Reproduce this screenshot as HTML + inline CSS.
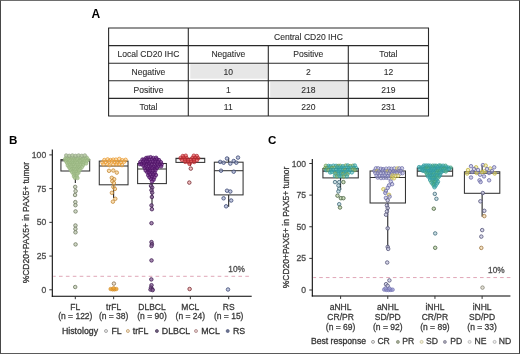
<!DOCTYPE html>
<html><head><meta charset="utf-8"><style>
html,body{margin:0;padding:0;background:#fff;}
body{width:520px;height:354px;overflow:hidden;position:relative;}
svg{position:absolute;left:0;top:0;font-family:"Liberation Sans", sans-serif;will-change:transform;}
.frame{position:absolute;left:0;top:0;width:518px;height:352px;border:1px solid #555;border-left-color:#484848;border-top-color:#6e6e6e;border-right-color:#3a3a3a;border-bottom-color:#5a5a5a;}
</style></head><body>
<svg width="520" height="354" viewBox="0 0 520 354">
<rect width="520" height="354" fill="#fff"/>
<text x="91.50" y="18.10" font-size="12.0" text-anchor="start" fill="#000"  font-weight="bold" >A</text>
<rect x="190.3" y="64.2" width="77.2" height="14.5" fill="#e7e7e7"/>
<rect x="270.2" y="81.8" width="77.2" height="15.1" fill="#e7e7e7"/>
<line x1="108.10" y1="28.00" x2="429.00" y2="28.00" stroke="#2a2a2a" stroke-width="1.1" />
<line x1="108.10" y1="45.60" x2="429.00" y2="45.60" stroke="#2a2a2a" stroke-width="1.1" />
<line x1="108.10" y1="63.20" x2="429.00" y2="63.20" stroke="#2a2a2a" stroke-width="1.1" />
<line x1="108.10" y1="80.80" x2="429.00" y2="80.80" stroke="#2a2a2a" stroke-width="1.1" />
<line x1="108.10" y1="98.40" x2="429.00" y2="98.40" stroke="#2a2a2a" stroke-width="1.1" />
<line x1="108.10" y1="116.00" x2="429.00" y2="116.00" stroke="#2a2a2a" stroke-width="1.1" />
<line x1="108.60" y1="28.00" x2="108.60" y2="116.00" stroke="#2a2a2a" stroke-width="1.1" />
<line x1="188.30" y1="28.00" x2="188.30" y2="116.00" stroke="#2a2a2a" stroke-width="1.1" />
<line x1="268.30" y1="45.60" x2="268.30" y2="116.00" stroke="#2a2a2a" stroke-width="1.1" />
<line x1="348.30" y1="45.60" x2="348.30" y2="116.00" stroke="#2a2a2a" stroke-width="1.1" />
<line x1="428.50" y1="28.00" x2="428.50" y2="116.00" stroke="#2a2a2a" stroke-width="1.1" />
<text x="308.40" y="39.70" font-size="8.55" text-anchor="middle" fill="#2e2e2e" stroke="#2e2e2e" stroke-width="0.1" font-weight="normal" >Central CD20 IHC</text>
<text x="148.45" y="57.30" font-size="8.55" text-anchor="middle" fill="#2e2e2e" stroke="#2e2e2e" stroke-width="0.1" font-weight="normal" >Local CD20 IHC</text>
<text x="228.30" y="57.30" font-size="8.55" text-anchor="middle" fill="#2e2e2e" stroke="#2e2e2e" stroke-width="0.1" font-weight="normal" >Negative</text>
<text x="308.30" y="57.30" font-size="8.55" text-anchor="middle" fill="#2e2e2e" stroke="#2e2e2e" stroke-width="0.1" font-weight="normal" >Positive</text>
<text x="388.40" y="57.30" font-size="8.55" text-anchor="middle" fill="#2e2e2e" stroke="#2e2e2e" stroke-width="0.1" font-weight="normal" >Total</text>
<text x="148.45" y="74.90" font-size="8.55" text-anchor="middle" fill="#2e2e2e" stroke="#2e2e2e" stroke-width="0.1" font-weight="normal" >Negative</text>
<text x="228.30" y="74.90" font-size="8.55" text-anchor="middle" fill="#2e2e2e" stroke="#2e2e2e" stroke-width="0.1" font-weight="normal" >10</text>
<text x="308.30" y="74.90" font-size="8.55" text-anchor="middle" fill="#2e2e2e" stroke="#2e2e2e" stroke-width="0.1" font-weight="normal" >2</text>
<text x="388.40" y="74.90" font-size="8.55" text-anchor="middle" fill="#2e2e2e" stroke="#2e2e2e" stroke-width="0.1" font-weight="normal" >12</text>
<text x="148.45" y="92.50" font-size="8.55" text-anchor="middle" fill="#2e2e2e" stroke="#2e2e2e" stroke-width="0.1" font-weight="normal" >Positive</text>
<text x="228.30" y="92.50" font-size="8.55" text-anchor="middle" fill="#2e2e2e" stroke="#2e2e2e" stroke-width="0.1" font-weight="normal" >1</text>
<text x="308.30" y="92.50" font-size="8.55" text-anchor="middle" fill="#2e2e2e" stroke="#2e2e2e" stroke-width="0.1" font-weight="normal" >218</text>
<text x="388.40" y="92.50" font-size="8.55" text-anchor="middle" fill="#2e2e2e" stroke="#2e2e2e" stroke-width="0.1" font-weight="normal" >219</text>
<text x="148.45" y="110.10" font-size="8.55" text-anchor="middle" fill="#2e2e2e" stroke="#2e2e2e" stroke-width="0.1" font-weight="normal" >Total</text>
<text x="228.30" y="110.10" font-size="8.55" text-anchor="middle" fill="#2e2e2e" stroke="#2e2e2e" stroke-width="0.1" font-weight="normal" >11</text>
<text x="308.30" y="110.10" font-size="8.55" text-anchor="middle" fill="#2e2e2e" stroke="#2e2e2e" stroke-width="0.1" font-weight="normal" >220</text>
<text x="388.40" y="110.10" font-size="8.55" text-anchor="middle" fill="#2e2e2e" stroke="#2e2e2e" stroke-width="0.1" font-weight="normal" >231</text>
<text x="9.00" y="144.00" font-size="11.6" text-anchor="start" fill="#000"  font-weight="bold" >B</text>
<text x="268.00" y="144.00" font-size="11.6" text-anchor="start" fill="#000"  font-weight="bold" >C</text>
<line x1="53.3" y1="276.31" x2="251.70" y2="276.31" stroke="#dea2b4" stroke-width="0.95" stroke-dasharray="3.6 3.3" stroke-dashoffset="1.2"/>
<line x1="313.3" y1="277.55" x2="510.40" y2="277.55" stroke="#dea2b4" stroke-width="0.95" stroke-dasharray="3.6 3.1" stroke-dashoffset="0.8"/>
<text x="244.90" y="272.30" font-size="8.3" text-anchor="end" fill="#4d4d4d" stroke="#4d4d4d" stroke-width="0.28" font-weight="normal" >10%</text>
<text x="504.70" y="273.20" font-size="8.3" text-anchor="end" fill="#4d4d4d" stroke="#4d4d4d" stroke-width="0.28" font-weight="normal" >10%</text>
<line x1="75.30" y1="159.60" x2="75.30" y2="159.60" stroke="#111" stroke-width="1" />
<line x1="75.30" y1="171.00" x2="75.30" y2="183.00" stroke="#111" stroke-width="1" />
<rect x="60.92" y="159.60" width="28.76" height="11.40" fill="none" stroke="#333" stroke-width="1.05"/>
<line x1="60.92" y1="160.80" x2="89.68" y2="160.80" stroke="#333" stroke-width="1.05" />
<line x1="113.65" y1="161.10" x2="113.65" y2="161.10" stroke="#111" stroke-width="1" />
<line x1="113.65" y1="184.80" x2="113.65" y2="198.00" stroke="#111" stroke-width="1" />
<rect x="99.27" y="161.10" width="28.76" height="23.70" fill="none" stroke="#333" stroke-width="1.05"/>
<line x1="99.27" y1="166.00" x2="128.03" y2="166.00" stroke="#333" stroke-width="1.05" />
<line x1="152.00" y1="163.50" x2="152.00" y2="163.50" stroke="#111" stroke-width="1" />
<line x1="152.00" y1="183.60" x2="152.00" y2="208.00" stroke="#111" stroke-width="1" />
<rect x="137.62" y="163.50" width="28.76" height="20.10" fill="none" stroke="#333" stroke-width="1.05"/>
<line x1="137.62" y1="169.00" x2="166.38" y2="169.00" stroke="#333" stroke-width="1.05" />
<line x1="190.35" y1="158.30" x2="190.35" y2="158.30" stroke="#111" stroke-width="1" />
<line x1="190.35" y1="162.40" x2="190.35" y2="166.00" stroke="#111" stroke-width="1" />
<rect x="175.97" y="158.30" width="28.76" height="4.10" fill="none" stroke="#333" stroke-width="1.05"/>
<line x1="175.97" y1="158.60" x2="204.73" y2="158.60" stroke="#333" stroke-width="1.05" />
<line x1="228.70" y1="157.60" x2="228.70" y2="162.20" stroke="#111" stroke-width="1" />
<line x1="228.70" y1="194.90" x2="228.70" y2="206.80" stroke="#111" stroke-width="1" />
<rect x="214.32" y="162.20" width="28.76" height="32.70" fill="none" stroke="#333" stroke-width="1.05"/>
<line x1="214.32" y1="170.70" x2="243.08" y2="170.70" stroke="#333" stroke-width="1.05" />
<circle cx="65.92" cy="157.96" r="1.75" fill="#aac693" fill-opacity="0.85" stroke="#93b07a" stroke-width="0.55"/>
<circle cx="68.35" cy="157.89" r="1.75" fill="#aac693" fill-opacity="0.85" stroke="#93b07a" stroke-width="0.55"/>
<circle cx="70.16" cy="157.98" r="1.75" fill="#aac693" fill-opacity="0.85" stroke="#93b07a" stroke-width="0.55"/>
<circle cx="72.03" cy="157.93" r="1.75" fill="#aac693" fill-opacity="0.85" stroke="#93b07a" stroke-width="0.55"/>
<circle cx="74.44" cy="158.12" r="1.75" fill="#aac693" fill-opacity="0.85" stroke="#93b07a" stroke-width="0.55"/>
<circle cx="76.17" cy="157.78" r="1.75" fill="#aac693" fill-opacity="0.85" stroke="#93b07a" stroke-width="0.55"/>
<circle cx="78.26" cy="158.14" r="1.75" fill="#aac693" fill-opacity="0.85" stroke="#93b07a" stroke-width="0.55"/>
<circle cx="80.79" cy="157.60" r="1.75" fill="#aac693" fill-opacity="0.85" stroke="#93b07a" stroke-width="0.55"/>
<circle cx="83.09" cy="158.24" r="1.75" fill="#aac693" fill-opacity="0.85" stroke="#93b07a" stroke-width="0.55"/>
<circle cx="84.96" cy="158.00" r="1.75" fill="#aac693" fill-opacity="0.85" stroke="#93b07a" stroke-width="0.55"/>
<circle cx="86.71" cy="157.58" r="1.75" fill="#aac693" fill-opacity="0.85" stroke="#93b07a" stroke-width="0.55"/>
<circle cx="64.92" cy="159.43" r="1.75" fill="#aac693" fill-opacity="0.85" stroke="#93b07a" stroke-width="0.55"/>
<circle cx="66.78" cy="159.56" r="1.75" fill="#aac693" fill-opacity="0.85" stroke="#93b07a" stroke-width="0.55"/>
<circle cx="68.77" cy="159.71" r="1.75" fill="#aac693" fill-opacity="0.85" stroke="#93b07a" stroke-width="0.55"/>
<circle cx="71.16" cy="159.98" r="1.75" fill="#aac693" fill-opacity="0.85" stroke="#93b07a" stroke-width="0.55"/>
<circle cx="73.31" cy="159.84" r="1.75" fill="#aac693" fill-opacity="0.85" stroke="#93b07a" stroke-width="0.55"/>
<circle cx="75.40" cy="159.85" r="1.75" fill="#aac693" fill-opacity="0.85" stroke="#93b07a" stroke-width="0.55"/>
<circle cx="77.47" cy="159.58" r="1.75" fill="#aac693" fill-opacity="0.85" stroke="#93b07a" stroke-width="0.55"/>
<circle cx="79.95" cy="160.08" r="1.75" fill="#aac693" fill-opacity="0.85" stroke="#93b07a" stroke-width="0.55"/>
<circle cx="81.94" cy="159.88" r="1.75" fill="#aac693" fill-opacity="0.85" stroke="#93b07a" stroke-width="0.55"/>
<circle cx="83.67" cy="159.55" r="1.75" fill="#aac693" fill-opacity="0.85" stroke="#93b07a" stroke-width="0.55"/>
<circle cx="85.75" cy="159.44" r="1.75" fill="#aac693" fill-opacity="0.85" stroke="#93b07a" stroke-width="0.55"/>
<circle cx="88.19" cy="159.67" r="1.75" fill="#aac693" fill-opacity="0.85" stroke="#93b07a" stroke-width="0.55"/>
<circle cx="66.19" cy="161.48" r="1.75" fill="#aac693" fill-opacity="0.85" stroke="#93b07a" stroke-width="0.55"/>
<circle cx="68.37" cy="161.80" r="1.75" fill="#aac693" fill-opacity="0.85" stroke="#93b07a" stroke-width="0.55"/>
<circle cx="69.80" cy="161.35" r="1.75" fill="#aac693" fill-opacity="0.85" stroke="#93b07a" stroke-width="0.55"/>
<circle cx="72.54" cy="161.53" r="1.75" fill="#aac693" fill-opacity="0.85" stroke="#93b07a" stroke-width="0.55"/>
<circle cx="74.69" cy="161.48" r="1.75" fill="#aac693" fill-opacity="0.85" stroke="#93b07a" stroke-width="0.55"/>
<circle cx="76.15" cy="161.65" r="1.75" fill="#aac693" fill-opacity="0.85" stroke="#93b07a" stroke-width="0.55"/>
<circle cx="78.74" cy="161.39" r="1.75" fill="#aac693" fill-opacity="0.85" stroke="#93b07a" stroke-width="0.55"/>
<circle cx="80.36" cy="161.44" r="1.75" fill="#aac693" fill-opacity="0.85" stroke="#93b07a" stroke-width="0.55"/>
<circle cx="83.07" cy="161.74" r="1.75" fill="#aac693" fill-opacity="0.85" stroke="#93b07a" stroke-width="0.55"/>
<circle cx="84.58" cy="161.38" r="1.75" fill="#aac693" fill-opacity="0.85" stroke="#93b07a" stroke-width="0.55"/>
<circle cx="86.67" cy="161.25" r="1.75" fill="#aac693" fill-opacity="0.85" stroke="#93b07a" stroke-width="0.55"/>
<circle cx="67.21" cy="163.15" r="1.75" fill="#aac693" fill-opacity="0.85" stroke="#93b07a" stroke-width="0.55"/>
<circle cx="69.14" cy="163.34" r="1.75" fill="#aac693" fill-opacity="0.85" stroke="#93b07a" stroke-width="0.55"/>
<circle cx="70.98" cy="163.54" r="1.75" fill="#aac693" fill-opacity="0.85" stroke="#93b07a" stroke-width="0.55"/>
<circle cx="73.04" cy="163.48" r="1.75" fill="#aac693" fill-opacity="0.85" stroke="#93b07a" stroke-width="0.55"/>
<circle cx="75.13" cy="163.32" r="1.75" fill="#aac693" fill-opacity="0.85" stroke="#93b07a" stroke-width="0.55"/>
<circle cx="77.30" cy="163.21" r="1.75" fill="#aac693" fill-opacity="0.85" stroke="#93b07a" stroke-width="0.55"/>
<circle cx="79.93" cy="163.59" r="1.75" fill="#aac693" fill-opacity="0.85" stroke="#93b07a" stroke-width="0.55"/>
<circle cx="81.56" cy="163.64" r="1.75" fill="#aac693" fill-opacity="0.85" stroke="#93b07a" stroke-width="0.55"/>
<circle cx="83.60" cy="163.30" r="1.75" fill="#aac693" fill-opacity="0.85" stroke="#93b07a" stroke-width="0.55"/>
<circle cx="86.15" cy="163.47" r="1.75" fill="#aac693" fill-opacity="0.85" stroke="#93b07a" stroke-width="0.55"/>
<circle cx="67.77" cy="165.54" r="1.75" fill="#aac693" fill-opacity="0.85" stroke="#93b07a" stroke-width="0.55"/>
<circle cx="69.95" cy="165.02" r="1.75" fill="#aac693" fill-opacity="0.85" stroke="#93b07a" stroke-width="0.55"/>
<circle cx="72.44" cy="165.07" r="1.75" fill="#aac693" fill-opacity="0.85" stroke="#93b07a" stroke-width="0.55"/>
<circle cx="74.21" cy="164.89" r="1.75" fill="#aac693" fill-opacity="0.85" stroke="#93b07a" stroke-width="0.55"/>
<circle cx="76.16" cy="165.25" r="1.75" fill="#aac693" fill-opacity="0.85" stroke="#93b07a" stroke-width="0.55"/>
<circle cx="78.37" cy="165.26" r="1.75" fill="#aac693" fill-opacity="0.85" stroke="#93b07a" stroke-width="0.55"/>
<circle cx="80.56" cy="165.16" r="1.75" fill="#aac693" fill-opacity="0.85" stroke="#93b07a" stroke-width="0.55"/>
<circle cx="83.07" cy="165.18" r="1.75" fill="#aac693" fill-opacity="0.85" stroke="#93b07a" stroke-width="0.55"/>
<circle cx="69.15" cy="167.27" r="1.75" fill="#aac693" fill-opacity="0.85" stroke="#93b07a" stroke-width="0.55"/>
<circle cx="70.98" cy="166.77" r="1.75" fill="#aac693" fill-opacity="0.85" stroke="#93b07a" stroke-width="0.55"/>
<circle cx="73.59" cy="167.23" r="1.75" fill="#aac693" fill-opacity="0.85" stroke="#93b07a" stroke-width="0.55"/>
<circle cx="75.22" cy="166.79" r="1.75" fill="#aac693" fill-opacity="0.85" stroke="#93b07a" stroke-width="0.55"/>
<circle cx="77.67" cy="167.32" r="1.75" fill="#aac693" fill-opacity="0.85" stroke="#93b07a" stroke-width="0.55"/>
<circle cx="79.39" cy="167.33" r="1.75" fill="#aac693" fill-opacity="0.85" stroke="#93b07a" stroke-width="0.55"/>
<circle cx="81.97" cy="167.08" r="1.75" fill="#aac693" fill-opacity="0.85" stroke="#93b07a" stroke-width="0.55"/>
<circle cx="70.10" cy="168.55" r="1.75" fill="#aac693" fill-opacity="0.85" stroke="#93b07a" stroke-width="0.55"/>
<circle cx="71.93" cy="169.15" r="1.75" fill="#aac693" fill-opacity="0.85" stroke="#93b07a" stroke-width="0.55"/>
<circle cx="74.17" cy="168.97" r="1.75" fill="#aac693" fill-opacity="0.85" stroke="#93b07a" stroke-width="0.55"/>
<circle cx="76.28" cy="169.06" r="1.75" fill="#aac693" fill-opacity="0.85" stroke="#93b07a" stroke-width="0.55"/>
<circle cx="78.62" cy="168.69" r="1.75" fill="#aac693" fill-opacity="0.85" stroke="#93b07a" stroke-width="0.55"/>
<circle cx="80.42" cy="168.98" r="1.75" fill="#aac693" fill-opacity="0.85" stroke="#93b07a" stroke-width="0.55"/>
<circle cx="70.90" cy="170.46" r="1.75" fill="#aac693" fill-opacity="0.85" stroke="#93b07a" stroke-width="0.55"/>
<circle cx="73.34" cy="170.90" r="1.75" fill="#aac693" fill-opacity="0.85" stroke="#93b07a" stroke-width="0.55"/>
<circle cx="75.48" cy="170.49" r="1.75" fill="#aac693" fill-opacity="0.85" stroke="#93b07a" stroke-width="0.55"/>
<circle cx="77.79" cy="170.44" r="1.75" fill="#aac693" fill-opacity="0.85" stroke="#93b07a" stroke-width="0.55"/>
<circle cx="79.26" cy="170.49" r="1.75" fill="#aac693" fill-opacity="0.85" stroke="#93b07a" stroke-width="0.55"/>
<circle cx="72.21" cy="172.16" r="1.75" fill="#aac693" fill-opacity="0.85" stroke="#93b07a" stroke-width="0.55"/>
<circle cx="74.12" cy="172.38" r="1.75" fill="#aac693" fill-opacity="0.85" stroke="#93b07a" stroke-width="0.55"/>
<circle cx="76.50" cy="172.21" r="1.75" fill="#aac693" fill-opacity="0.85" stroke="#93b07a" stroke-width="0.55"/>
<circle cx="78.45" cy="172.74" r="1.75" fill="#aac693" fill-opacity="0.85" stroke="#93b07a" stroke-width="0.55"/>
<circle cx="73.64" cy="174.40" r="1.75" fill="#aac693" fill-opacity="0.85" stroke="#93b07a" stroke-width="0.55"/>
<circle cx="75.53" cy="174.35" r="1.75" fill="#aac693" fill-opacity="0.85" stroke="#93b07a" stroke-width="0.55"/>
<circle cx="77.25" cy="173.96" r="1.75" fill="#aac693" fill-opacity="0.85" stroke="#93b07a" stroke-width="0.55"/>
<circle cx="74.01" cy="176.39" r="1.75" fill="#aac693" fill-opacity="0.85" stroke="#93b07a" stroke-width="0.55"/>
<circle cx="76.59" cy="176.43" r="1.75" fill="#aac693" fill-opacity="0.85" stroke="#93b07a" stroke-width="0.55"/>
<circle cx="75.06" cy="178.02" r="1.75" fill="#aac693" fill-opacity="0.85" stroke="#93b07a" stroke-width="0.55"/>
<circle cx="77.49" cy="178.08" r="1.75" fill="#aac693" fill-opacity="0.85" stroke="#93b07a" stroke-width="0.55"/>
<circle cx="66.20" cy="155.40" r="1.75" fill="#b4c8a0" fill-opacity="0.9" stroke="#8c9c80" stroke-width="0.6"/>
<circle cx="69.30" cy="155.80" r="1.75" fill="#b4c8a0" fill-opacity="0.9" stroke="#8c9c80" stroke-width="0.6"/>
<circle cx="72.40" cy="155.40" r="1.75" fill="#b4c8a0" fill-opacity="0.9" stroke="#8c9c80" stroke-width="0.6"/>
<circle cx="75.50" cy="155.80" r="1.75" fill="#b4c8a0" fill-opacity="0.9" stroke="#8c9c80" stroke-width="0.6"/>
<circle cx="78.60" cy="155.40" r="1.75" fill="#b4c8a0" fill-opacity="0.9" stroke="#8c9c80" stroke-width="0.6"/>
<circle cx="81.70" cy="155.80" r="1.75" fill="#b4c8a0" fill-opacity="0.9" stroke="#8c9c80" stroke-width="0.6"/>
<circle cx="84.80" cy="155.40" r="1.75" fill="#b4c8a0" fill-opacity="0.9" stroke="#8c9c80" stroke-width="0.6"/>
<circle cx="75.19" cy="186.90" r="1.75" fill="#c4ceb6" fill-opacity="0.8" stroke="#768068" stroke-width="0.85"/>
<circle cx="75.60" cy="191.10" r="1.75" fill="#c4ceb6" fill-opacity="0.8" stroke="#768068" stroke-width="0.85"/>
<circle cx="75.05" cy="195.00" r="1.75" fill="#c4ceb6" fill-opacity="0.8" stroke="#768068" stroke-width="0.85"/>
<circle cx="75.33" cy="202.10" r="1.75" fill="#c4ceb6" fill-opacity="0.8" stroke="#768068" stroke-width="0.85"/>
<circle cx="75.44" cy="205.20" r="1.75" fill="#c4ceb6" fill-opacity="0.8" stroke="#768068" stroke-width="0.85"/>
<circle cx="75.54" cy="211.40" r="1.75" fill="#c4ceb6" fill-opacity="0.8" stroke="#768068" stroke-width="0.85"/>
<circle cx="75.44" cy="225.50" r="1.75" fill="#c4ceb6" fill-opacity="0.8" stroke="#768068" stroke-width="0.85"/>
<circle cx="75.42" cy="228.90" r="1.75" fill="#c4ceb6" fill-opacity="0.8" stroke="#768068" stroke-width="0.85"/>
<circle cx="75.48" cy="232.30" r="1.75" fill="#c4ceb6" fill-opacity="0.8" stroke="#768068" stroke-width="0.85"/>
<circle cx="75.55" cy="244.40" r="1.75" fill="#c4ceb6" fill-opacity="0.8" stroke="#768068" stroke-width="0.85"/>
<circle cx="75.21" cy="287.00" r="1.75" fill="#c4ceb6" fill-opacity="0.8" stroke="#768068" stroke-width="0.85"/>
<circle cx="104.36" cy="160.06" r="1.75" fill="#f5c070" fill-opacity="0.5" stroke="#e8962a" stroke-width="0.7"/>
<circle cx="107.62" cy="159.38" r="1.75" fill="#f5c070" fill-opacity="0.5" stroke="#e8962a" stroke-width="0.7"/>
<circle cx="110.51" cy="160.01" r="1.75" fill="#f5c070" fill-opacity="0.5" stroke="#e8962a" stroke-width="0.7"/>
<circle cx="113.20" cy="159.67" r="1.75" fill="#f5c070" fill-opacity="0.5" stroke="#e8962a" stroke-width="0.7"/>
<circle cx="115.94" cy="159.61" r="1.75" fill="#f5c070" fill-opacity="0.5" stroke="#e8962a" stroke-width="0.7"/>
<circle cx="119.25" cy="158.91" r="1.75" fill="#f5c070" fill-opacity="0.5" stroke="#e8962a" stroke-width="0.7"/>
<circle cx="122.30" cy="160.19" r="1.75" fill="#f5c070" fill-opacity="0.5" stroke="#e8962a" stroke-width="0.7"/>
<circle cx="125.63" cy="159.82" r="1.75" fill="#f5c070" fill-opacity="0.5" stroke="#e8962a" stroke-width="0.7"/>
<circle cx="102.44" cy="162.43" r="1.75" fill="#f5c070" fill-opacity="0.5" stroke="#e8962a" stroke-width="0.7"/>
<circle cx="105.71" cy="162.01" r="1.75" fill="#f5c070" fill-opacity="0.5" stroke="#e8962a" stroke-width="0.7"/>
<circle cx="109.07" cy="161.51" r="1.75" fill="#f5c070" fill-opacity="0.5" stroke="#e8962a" stroke-width="0.7"/>
<circle cx="111.95" cy="161.44" r="1.75" fill="#f5c070" fill-opacity="0.5" stroke="#e8962a" stroke-width="0.7"/>
<circle cx="114.74" cy="162.07" r="1.75" fill="#f5c070" fill-opacity="0.5" stroke="#e8962a" stroke-width="0.7"/>
<circle cx="117.22" cy="162.37" r="1.75" fill="#f5c070" fill-opacity="0.5" stroke="#e8962a" stroke-width="0.7"/>
<circle cx="120.60" cy="162.26" r="1.75" fill="#f5c070" fill-opacity="0.5" stroke="#e8962a" stroke-width="0.7"/>
<circle cx="124.19" cy="161.75" r="1.75" fill="#f5c070" fill-opacity="0.5" stroke="#e8962a" stroke-width="0.7"/>
<circle cx="103.42" cy="164.42" r="1.75" fill="#f5c070" fill-opacity="0.5" stroke="#e8962a" stroke-width="0.7"/>
<circle cx="107.35" cy="164.28" r="1.75" fill="#f5c070" fill-opacity="0.5" stroke="#e8962a" stroke-width="0.7"/>
<circle cx="109.64" cy="165.26" r="1.75" fill="#f5c070" fill-opacity="0.5" stroke="#e8962a" stroke-width="0.7"/>
<circle cx="113.32" cy="164.61" r="1.75" fill="#f5c070" fill-opacity="0.5" stroke="#e8962a" stroke-width="0.7"/>
<circle cx="116.65" cy="164.45" r="1.75" fill="#f5c070" fill-opacity="0.5" stroke="#e8962a" stroke-width="0.7"/>
<circle cx="119.33" cy="164.27" r="1.75" fill="#f5c070" fill-opacity="0.5" stroke="#e8962a" stroke-width="0.7"/>
<circle cx="122.00" cy="165.12" r="1.75" fill="#f5c070" fill-opacity="0.5" stroke="#e8962a" stroke-width="0.7"/>
<circle cx="109.00" cy="170.80" r="1.75" fill="#f4c47a" fill-opacity="0.6" stroke="#c48a3a" stroke-width="0.8"/>
<circle cx="113.30" cy="170.50" r="1.75" fill="#f4c47a" fill-opacity="0.6" stroke="#c48a3a" stroke-width="0.8"/>
<circle cx="116.80" cy="172.60" r="1.75" fill="#f4c47a" fill-opacity="0.6" stroke="#c48a3a" stroke-width="0.8"/>
<circle cx="111.80" cy="177.80" r="1.75" fill="#f4c47a" fill-opacity="0.6" stroke="#c48a3a" stroke-width="0.8"/>
<circle cx="114.20" cy="179.20" r="1.75" fill="#f4c47a" fill-opacity="0.6" stroke="#c48a3a" stroke-width="0.8"/>
<circle cx="112.30" cy="181.20" r="1.75" fill="#f4c47a" fill-opacity="0.6" stroke="#c48a3a" stroke-width="0.8"/>
<circle cx="113.90" cy="183.00" r="1.75" fill="#f4c47a" fill-opacity="0.6" stroke="#c48a3a" stroke-width="0.8"/>
<circle cx="113.40" cy="186.90" r="1.75" fill="#f4c47a" fill-opacity="0.6" stroke="#c48a3a" stroke-width="0.8"/>
<circle cx="114.90" cy="188.90" r="1.75" fill="#f4c47a" fill-opacity="0.6" stroke="#c48a3a" stroke-width="0.8"/>
<circle cx="111.90" cy="192.80" r="1.75" fill="#f4c47a" fill-opacity="0.6" stroke="#c48a3a" stroke-width="0.8"/>
<circle cx="115.30" cy="198.80" r="1.75" fill="#f4c47a" fill-opacity="0.6" stroke="#c48a3a" stroke-width="0.8"/>
<circle cx="112.90" cy="201.70" r="1.75" fill="#f4c47a" fill-opacity="0.6" stroke="#c48a3a" stroke-width="0.8"/>
<circle cx="113.90" cy="283.60" r="1.75" fill="#e8d8c0" fill-opacity="0.8" stroke="#8a7458" stroke-width="0.85"/>
<circle cx="110.60" cy="289.00" r="1.75" fill="#eca436" fill-opacity="0.85" stroke="#d08a28" stroke-width="0.6"/>
<circle cx="112.60" cy="289.40" r="1.75" fill="#eca436" fill-opacity="0.85" stroke="#d08a28" stroke-width="0.6"/>
<circle cx="114.60" cy="289.40" r="1.75" fill="#eca436" fill-opacity="0.85" stroke="#d08a28" stroke-width="0.6"/>
<circle cx="116.40" cy="289.00" r="1.75" fill="#eca436" fill-opacity="0.85" stroke="#d08a28" stroke-width="0.6"/>
<circle cx="113.60" cy="288.20" r="1.75" fill="#eca436" fill-opacity="0.85" stroke="#d08a28" stroke-width="0.6"/>
<circle cx="146.16" cy="157.95" r="1.75" fill="#6e2a84" fill-opacity="0.72" stroke="#4e1466" stroke-width="0.75"/>
<circle cx="148.13" cy="157.65" r="1.75" fill="#6e2a84" fill-opacity="0.72" stroke="#4e1466" stroke-width="0.75"/>
<circle cx="150.57" cy="157.20" r="1.75" fill="#6e2a84" fill-opacity="0.72" stroke="#4e1466" stroke-width="0.75"/>
<circle cx="153.25" cy="157.90" r="1.75" fill="#6e2a84" fill-opacity="0.72" stroke="#4e1466" stroke-width="0.75"/>
<circle cx="156.10" cy="157.78" r="1.75" fill="#6e2a84" fill-opacity="0.72" stroke="#4e1466" stroke-width="0.75"/>
<circle cx="142.45" cy="159.51" r="1.75" fill="#6e2a84" fill-opacity="0.72" stroke="#4e1466" stroke-width="0.75"/>
<circle cx="144.17" cy="159.68" r="1.75" fill="#6e2a84" fill-opacity="0.72" stroke="#4e1466" stroke-width="0.75"/>
<circle cx="146.78" cy="159.44" r="1.75" fill="#6e2a84" fill-opacity="0.72" stroke="#4e1466" stroke-width="0.75"/>
<circle cx="149.41" cy="159.86" r="1.75" fill="#6e2a84" fill-opacity="0.72" stroke="#4e1466" stroke-width="0.75"/>
<circle cx="151.99" cy="159.55" r="1.75" fill="#6e2a84" fill-opacity="0.72" stroke="#4e1466" stroke-width="0.75"/>
<circle cx="154.84" cy="160.21" r="1.75" fill="#6e2a84" fill-opacity="0.72" stroke="#4e1466" stroke-width="0.75"/>
<circle cx="156.95" cy="159.30" r="1.75" fill="#6e2a84" fill-opacity="0.72" stroke="#4e1466" stroke-width="0.75"/>
<circle cx="159.03" cy="160.10" r="1.75" fill="#6e2a84" fill-opacity="0.72" stroke="#4e1466" stroke-width="0.75"/>
<circle cx="140.29" cy="162.10" r="1.75" fill="#6e2a84" fill-opacity="0.72" stroke="#4e1466" stroke-width="0.75"/>
<circle cx="143.32" cy="161.70" r="1.75" fill="#6e2a84" fill-opacity="0.72" stroke="#4e1466" stroke-width="0.75"/>
<circle cx="146.04" cy="161.41" r="1.75" fill="#6e2a84" fill-opacity="0.72" stroke="#4e1466" stroke-width="0.75"/>
<circle cx="147.89" cy="161.85" r="1.75" fill="#6e2a84" fill-opacity="0.72" stroke="#4e1466" stroke-width="0.75"/>
<circle cx="150.27" cy="162.22" r="1.75" fill="#6e2a84" fill-opacity="0.72" stroke="#4e1466" stroke-width="0.75"/>
<circle cx="152.99" cy="161.54" r="1.75" fill="#6e2a84" fill-opacity="0.72" stroke="#4e1466" stroke-width="0.75"/>
<circle cx="155.30" cy="162.02" r="1.75" fill="#6e2a84" fill-opacity="0.72" stroke="#4e1466" stroke-width="0.75"/>
<circle cx="158.20" cy="162.02" r="1.75" fill="#6e2a84" fill-opacity="0.72" stroke="#4e1466" stroke-width="0.75"/>
<circle cx="160.91" cy="162.20" r="1.75" fill="#6e2a84" fill-opacity="0.72" stroke="#4e1466" stroke-width="0.75"/>
<circle cx="139.96" cy="164.24" r="1.75" fill="#6e2a84" fill-opacity="0.72" stroke="#4e1466" stroke-width="0.75"/>
<circle cx="141.70" cy="164.04" r="1.75" fill="#6e2a84" fill-opacity="0.72" stroke="#4e1466" stroke-width="0.75"/>
<circle cx="144.18" cy="163.57" r="1.75" fill="#6e2a84" fill-opacity="0.72" stroke="#4e1466" stroke-width="0.75"/>
<circle cx="146.97" cy="164.27" r="1.75" fill="#6e2a84" fill-opacity="0.72" stroke="#4e1466" stroke-width="0.75"/>
<circle cx="149.18" cy="163.83" r="1.75" fill="#6e2a84" fill-opacity="0.72" stroke="#4e1466" stroke-width="0.75"/>
<circle cx="151.85" cy="164.26" r="1.75" fill="#6e2a84" fill-opacity="0.72" stroke="#4e1466" stroke-width="0.75"/>
<circle cx="154.52" cy="164.17" r="1.75" fill="#6e2a84" fill-opacity="0.72" stroke="#4e1466" stroke-width="0.75"/>
<circle cx="157.26" cy="163.95" r="1.75" fill="#6e2a84" fill-opacity="0.72" stroke="#4e1466" stroke-width="0.75"/>
<circle cx="159.79" cy="164.47" r="1.75" fill="#6e2a84" fill-opacity="0.72" stroke="#4e1466" stroke-width="0.75"/>
<circle cx="161.59" cy="164.49" r="1.75" fill="#6e2a84" fill-opacity="0.72" stroke="#4e1466" stroke-width="0.75"/>
<circle cx="143.47" cy="165.85" r="1.75" fill="#6e2a84" fill-opacity="0.72" stroke="#4e1466" stroke-width="0.75"/>
<circle cx="145.70" cy="166.35" r="1.75" fill="#6e2a84" fill-opacity="0.72" stroke="#4e1466" stroke-width="0.75"/>
<circle cx="148.66" cy="166.10" r="1.75" fill="#6e2a84" fill-opacity="0.72" stroke="#4e1466" stroke-width="0.75"/>
<circle cx="150.82" cy="166.60" r="1.75" fill="#6e2a84" fill-opacity="0.72" stroke="#4e1466" stroke-width="0.75"/>
<circle cx="153.55" cy="166.67" r="1.75" fill="#6e2a84" fill-opacity="0.72" stroke="#4e1466" stroke-width="0.75"/>
<circle cx="155.71" cy="166.38" r="1.75" fill="#6e2a84" fill-opacity="0.72" stroke="#4e1466" stroke-width="0.75"/>
<circle cx="157.95" cy="166.45" r="1.75" fill="#6e2a84" fill-opacity="0.72" stroke="#4e1466" stroke-width="0.75"/>
<circle cx="161.07" cy="166.37" r="1.75" fill="#6e2a84" fill-opacity="0.72" stroke="#4e1466" stroke-width="0.75"/>
<circle cx="144.72" cy="168.10" r="1.75" fill="#6e2a84" fill-opacity="0.72" stroke="#4e1466" stroke-width="0.75"/>
<circle cx="147.40" cy="168.87" r="1.75" fill="#6e2a84" fill-opacity="0.72" stroke="#4e1466" stroke-width="0.75"/>
<circle cx="149.98" cy="168.43" r="1.75" fill="#6e2a84" fill-opacity="0.72" stroke="#4e1466" stroke-width="0.75"/>
<circle cx="152.29" cy="168.21" r="1.75" fill="#6e2a84" fill-opacity="0.72" stroke="#4e1466" stroke-width="0.75"/>
<circle cx="154.91" cy="168.75" r="1.75" fill="#6e2a84" fill-opacity="0.72" stroke="#4e1466" stroke-width="0.75"/>
<circle cx="156.85" cy="167.97" r="1.75" fill="#6e2a84" fill-opacity="0.72" stroke="#4e1466" stroke-width="0.75"/>
<circle cx="145.69" cy="170.61" r="1.75" fill="#6e2a84" fill-opacity="0.72" stroke="#4e1466" stroke-width="0.75"/>
<circle cx="148.52" cy="170.54" r="1.75" fill="#6e2a84" fill-opacity="0.72" stroke="#4e1466" stroke-width="0.75"/>
<circle cx="150.28" cy="170.86" r="1.75" fill="#6e2a84" fill-opacity="0.72" stroke="#4e1466" stroke-width="0.75"/>
<circle cx="152.81" cy="170.85" r="1.75" fill="#6e2a84" fill-opacity="0.72" stroke="#4e1466" stroke-width="0.75"/>
<circle cx="155.42" cy="170.39" r="1.75" fill="#6e2a84" fill-opacity="0.72" stroke="#4e1466" stroke-width="0.75"/>
<circle cx="147.29" cy="172.36" r="1.75" fill="#6e2a84" fill-opacity="0.72" stroke="#4e1466" stroke-width="0.75"/>
<circle cx="149.15" cy="172.74" r="1.75" fill="#6e2a84" fill-opacity="0.72" stroke="#4e1466" stroke-width="0.75"/>
<circle cx="152.22" cy="173.06" r="1.75" fill="#6e2a84" fill-opacity="0.72" stroke="#4e1466" stroke-width="0.75"/>
<circle cx="154.69" cy="173.17" r="1.75" fill="#6e2a84" fill-opacity="0.72" stroke="#4e1466" stroke-width="0.75"/>
<circle cx="148.24" cy="175.33" r="1.75" fill="#6e2a84" fill-opacity="0.72" stroke="#4e1466" stroke-width="0.75"/>
<circle cx="150.34" cy="174.61" r="1.75" fill="#6e2a84" fill-opacity="0.72" stroke="#4e1466" stroke-width="0.75"/>
<circle cx="153.28" cy="174.68" r="1.75" fill="#6e2a84" fill-opacity="0.72" stroke="#4e1466" stroke-width="0.75"/>
<circle cx="155.98" cy="175.02" r="1.75" fill="#6e2a84" fill-opacity="0.72" stroke="#4e1466" stroke-width="0.75"/>
<circle cx="149.52" cy="177.39" r="1.75" fill="#6e2a84" fill-opacity="0.72" stroke="#4e1466" stroke-width="0.75"/>
<circle cx="152.06" cy="176.86" r="1.75" fill="#6e2a84" fill-opacity="0.72" stroke="#4e1466" stroke-width="0.75"/>
<circle cx="154.38" cy="177.40" r="1.75" fill="#6e2a84" fill-opacity="0.72" stroke="#4e1466" stroke-width="0.75"/>
<circle cx="151.15" cy="178.92" r="1.75" fill="#6e2a84" fill-opacity="0.72" stroke="#4e1466" stroke-width="0.75"/>
<circle cx="153.60" cy="179.68" r="1.75" fill="#6e2a84" fill-opacity="0.72" stroke="#4e1466" stroke-width="0.75"/>
<circle cx="152.02" cy="181.45" r="1.75" fill="#6e2a84" fill-opacity="0.72" stroke="#4e1466" stroke-width="0.75"/>
<circle cx="151.00" cy="185.90" r="1.75" fill="#8a6498" fill-opacity="0.75" stroke="#442256" stroke-width="0.85"/>
<circle cx="152.20" cy="187.60" r="1.75" fill="#8a6498" fill-opacity="0.75" stroke="#442256" stroke-width="0.85"/>
<circle cx="151.50" cy="190.20" r="1.75" fill="#8a6498" fill-opacity="0.75" stroke="#442256" stroke-width="0.85"/>
<circle cx="152.20" cy="192.70" r="1.75" fill="#8a6498" fill-opacity="0.75" stroke="#442256" stroke-width="0.85"/>
<circle cx="151.90" cy="197.00" r="1.75" fill="#8a6498" fill-opacity="0.75" stroke="#442256" stroke-width="0.85"/>
<circle cx="151.50" cy="205.40" r="1.75" fill="#8a6498" fill-opacity="0.75" stroke="#442256" stroke-width="0.85"/>
<circle cx="151.90" cy="209.20" r="1.75" fill="#8a6498" fill-opacity="0.75" stroke="#442256" stroke-width="0.85"/>
<circle cx="151.50" cy="223.20" r="1.75" fill="#8a6498" fill-opacity="0.75" stroke="#442256" stroke-width="0.85"/>
<circle cx="151.50" cy="242.10" r="1.75" fill="#8a6498" fill-opacity="0.75" stroke="#442256" stroke-width="0.85"/>
<circle cx="151.90" cy="244.30" r="1.75" fill="#8a6498" fill-opacity="0.75" stroke="#442256" stroke-width="0.85"/>
<circle cx="151.50" cy="246.00" r="1.75" fill="#8a6498" fill-opacity="0.75" stroke="#442256" stroke-width="0.85"/>
<circle cx="151.50" cy="260.40" r="1.75" fill="#8a6498" fill-opacity="0.75" stroke="#442256" stroke-width="0.85"/>
<circle cx="151.30" cy="279.40" r="1.75" fill="#8a6498" fill-opacity="0.75" stroke="#442256" stroke-width="0.85"/>
<circle cx="151.50" cy="285.20" r="1.75" fill="#8a6498" fill-opacity="0.75" stroke="#442256" stroke-width="0.85"/>
<circle cx="151.00" cy="287.60" r="1.75" fill="#8a6498" fill-opacity="0.75" stroke="#442256" stroke-width="0.85"/>
<circle cx="152.20" cy="289.20" r="1.75" fill="#8a6498" fill-opacity="0.75" stroke="#442256" stroke-width="0.85"/>
<circle cx="150.50" cy="289.60" r="1.75" fill="#8a6498" fill-opacity="0.75" stroke="#442256" stroke-width="0.85"/>
<circle cx="152.70" cy="290.10" r="1.75" fill="#8a6498" fill-opacity="0.75" stroke="#442256" stroke-width="0.85"/>
<circle cx="182.80" cy="156.00" r="1.75" fill="#e03838" fill-opacity="0.6" stroke="#b02830" stroke-width="0.7"/>
<circle cx="185.80" cy="155.70" r="1.75" fill="#e03838" fill-opacity="0.6" stroke="#b02830" stroke-width="0.7"/>
<circle cx="193.80" cy="155.70" r="1.75" fill="#e03838" fill-opacity="0.6" stroke="#b02830" stroke-width="0.7"/>
<circle cx="196.80" cy="156.00" r="1.75" fill="#e03838" fill-opacity="0.6" stroke="#b02830" stroke-width="0.7"/>
<circle cx="180.60" cy="158.00" r="1.75" fill="#e03838" fill-opacity="0.6" stroke="#b02830" stroke-width="0.7"/>
<circle cx="183.60" cy="157.80" r="1.75" fill="#e03838" fill-opacity="0.6" stroke="#b02830" stroke-width="0.7"/>
<circle cx="186.60" cy="158.10" r="1.75" fill="#e03838" fill-opacity="0.6" stroke="#b02830" stroke-width="0.7"/>
<circle cx="192.40" cy="157.90" r="1.75" fill="#e03838" fill-opacity="0.6" stroke="#b02830" stroke-width="0.7"/>
<circle cx="195.40" cy="157.80" r="1.75" fill="#e03838" fill-opacity="0.6" stroke="#b02830" stroke-width="0.7"/>
<circle cx="198.20" cy="158.20" r="1.75" fill="#e03838" fill-opacity="0.6" stroke="#b02830" stroke-width="0.7"/>
<circle cx="181.90" cy="160.00" r="1.75" fill="#e03838" fill-opacity="0.6" stroke="#b02830" stroke-width="0.7"/>
<circle cx="184.90" cy="159.80" r="1.75" fill="#e03838" fill-opacity="0.6" stroke="#b02830" stroke-width="0.7"/>
<circle cx="187.90" cy="160.20" r="1.75" fill="#e03838" fill-opacity="0.6" stroke="#b02830" stroke-width="0.7"/>
<circle cx="190.90" cy="159.60" r="1.75" fill="#e03838" fill-opacity="0.6" stroke="#b02830" stroke-width="0.7"/>
<circle cx="193.90" cy="160.00" r="1.75" fill="#e03838" fill-opacity="0.6" stroke="#b02830" stroke-width="0.7"/>
<circle cx="196.90" cy="160.30" r="1.75" fill="#e03838" fill-opacity="0.6" stroke="#b02830" stroke-width="0.7"/>
<circle cx="185.20" cy="161.90" r="1.75" fill="#e03838" fill-opacity="0.6" stroke="#b02830" stroke-width="0.7"/>
<circle cx="188.20" cy="162.10" r="1.75" fill="#e03838" fill-opacity="0.6" stroke="#b02830" stroke-width="0.7"/>
<circle cx="191.20" cy="161.80" r="1.75" fill="#e03838" fill-opacity="0.6" stroke="#b02830" stroke-width="0.7"/>
<circle cx="194.20" cy="162.00" r="1.75" fill="#e03838" fill-opacity="0.6" stroke="#b02830" stroke-width="0.7"/>
<circle cx="189.60" cy="164.00" r="1.75" fill="#e03838" fill-opacity="0.6" stroke="#b02830" stroke-width="0.7"/>
<circle cx="190.80" cy="168.60" r="1.75" fill="#e8a0a0" fill-opacity="0.7" stroke="#7a3038" stroke-width="0.85"/>
<circle cx="189.30" cy="182.60" r="1.75" fill="#e8a0a0" fill-opacity="0.7" stroke="#7a3038" stroke-width="0.85"/>
<circle cx="189.60" cy="289.00" r="1.75" fill="#e8a0a0" fill-opacity="0.7" stroke="#7a3038" stroke-width="0.85"/>
<circle cx="227.00" cy="158.50" r="1.75" fill="#a2aace" fill-opacity="0.65" stroke="#45507a" stroke-width="0.85"/>
<circle cx="238.00" cy="157.60" r="1.75" fill="#a2aace" fill-opacity="0.65" stroke="#45507a" stroke-width="0.85"/>
<circle cx="220.20" cy="161.90" r="1.75" fill="#a2aace" fill-opacity="0.65" stroke="#45507a" stroke-width="0.85"/>
<circle cx="223.60" cy="162.70" r="1.75" fill="#a2aace" fill-opacity="0.65" stroke="#45507a" stroke-width="0.85"/>
<circle cx="230.30" cy="163.60" r="1.75" fill="#a2aace" fill-opacity="0.65" stroke="#45507a" stroke-width="0.85"/>
<circle cx="233.70" cy="161.00" r="1.75" fill="#a2aace" fill-opacity="0.65" stroke="#45507a" stroke-width="0.85"/>
<circle cx="236.30" cy="162.70" r="1.75" fill="#a2aace" fill-opacity="0.65" stroke="#45507a" stroke-width="0.85"/>
<circle cx="221.00" cy="170.70" r="1.75" fill="#a2aace" fill-opacity="0.65" stroke="#45507a" stroke-width="0.85"/>
<circle cx="233.70" cy="171.70" r="1.75" fill="#a2aace" fill-opacity="0.65" stroke="#45507a" stroke-width="0.85"/>
<circle cx="227.00" cy="190.70" r="1.75" fill="#a2aace" fill-opacity="0.65" stroke="#45507a" stroke-width="0.85"/>
<circle cx="230.30" cy="191.50" r="1.75" fill="#a2aace" fill-opacity="0.65" stroke="#45507a" stroke-width="0.85"/>
<circle cx="223.60" cy="198.30" r="1.75" fill="#a2aace" fill-opacity="0.65" stroke="#45507a" stroke-width="0.85"/>
<circle cx="231.20" cy="200.50" r="1.75" fill="#a2aace" fill-opacity="0.65" stroke="#45507a" stroke-width="0.85"/>
<circle cx="226.10" cy="206.30" r="1.75" fill="#a2aace" fill-opacity="0.65" stroke="#45507a" stroke-width="0.85"/>
<circle cx="228.00" cy="289.50" r="1.75" fill="#a2aace" fill-opacity="0.65" stroke="#45507a" stroke-width="0.85"/>
<line x1="340.60" y1="168.50" x2="340.60" y2="168.50" stroke="#111" stroke-width="1" />
<line x1="340.60" y1="177.90" x2="340.60" y2="190.00" stroke="#111" stroke-width="1" />
<rect x="322.91" y="168.50" width="35.38" height="9.40" fill="none" stroke="#333" stroke-width="1.05"/>
<line x1="322.91" y1="171.10" x2="358.29" y2="171.10" stroke="#333" stroke-width="1.05" />
<line x1="387.77" y1="171.00" x2="387.77" y2="171.00" stroke="#111" stroke-width="1" />
<line x1="387.77" y1="203.00" x2="387.77" y2="247.00" stroke="#111" stroke-width="1" />
<rect x="370.08" y="171.00" width="35.38" height="32.00" fill="none" stroke="#333" stroke-width="1.05"/>
<line x1="370.08" y1="177.40" x2="405.46" y2="177.40" stroke="#333" stroke-width="1.05" />
<line x1="434.94" y1="168.00" x2="434.94" y2="168.00" stroke="#111" stroke-width="1" />
<line x1="434.94" y1="176.10" x2="434.94" y2="186.00" stroke="#111" stroke-width="1" />
<rect x="417.25" y="168.00" width="35.38" height="8.10" fill="none" stroke="#333" stroke-width="1.05"/>
<line x1="417.25" y1="171.10" x2="452.63" y2="171.10" stroke="#333" stroke-width="1.05" />
<line x1="482.11" y1="165.10" x2="482.11" y2="171.80" stroke="#111" stroke-width="1" />
<line x1="482.11" y1="193.30" x2="482.11" y2="216.70" stroke="#111" stroke-width="1" />
<rect x="464.42" y="171.80" width="35.38" height="21.50" fill="none" stroke="#333" stroke-width="1.05"/>
<line x1="464.42" y1="173.30" x2="499.80" y2="173.30" stroke="#333" stroke-width="1.05" />
<circle cx="325.93" cy="165.81" r="1.75" fill="#8cbc78" fill-opacity="0.55" stroke="#6a9a50" stroke-width="0.7"/>
<circle cx="328.60" cy="165.87" r="1.75" fill="#4ab0b2" fill-opacity="0.55" stroke="#2e9a9e" stroke-width="0.7"/>
<circle cx="330.57" cy="166.20" r="1.75" fill="#4ab0b2" fill-opacity="0.55" stroke="#2e9a9e" stroke-width="0.7"/>
<circle cx="333.41" cy="165.69" r="1.75" fill="#4ab0b2" fill-opacity="0.55" stroke="#2e9a9e" stroke-width="0.7"/>
<circle cx="336.07" cy="165.83" r="1.75" fill="#4ab0b2" fill-opacity="0.55" stroke="#2e9a9e" stroke-width="0.7"/>
<circle cx="338.19" cy="165.95" r="1.75" fill="#8cbc78" fill-opacity="0.55" stroke="#6a9a50" stroke-width="0.7"/>
<circle cx="340.21" cy="165.81" r="1.75" fill="#8cbc78" fill-opacity="0.55" stroke="#6a9a50" stroke-width="0.7"/>
<circle cx="342.92" cy="166.19" r="1.75" fill="#4ab0b2" fill-opacity="0.55" stroke="#2e9a9e" stroke-width="0.7"/>
<circle cx="345.78" cy="165.57" r="1.75" fill="#8cbc78" fill-opacity="0.55" stroke="#6a9a50" stroke-width="0.7"/>
<circle cx="347.78" cy="165.44" r="1.75" fill="#4ab0b2" fill-opacity="0.55" stroke="#2e9a9e" stroke-width="0.7"/>
<circle cx="350.14" cy="166.06" r="1.75" fill="#8cbc78" fill-opacity="0.55" stroke="#6a9a50" stroke-width="0.7"/>
<circle cx="352.96" cy="165.76" r="1.75" fill="#8cbc78" fill-opacity="0.55" stroke="#6a9a50" stroke-width="0.7"/>
<circle cx="354.84" cy="165.50" r="1.75" fill="#4ab0b2" fill-opacity="0.55" stroke="#2e9a9e" stroke-width="0.7"/>
<circle cx="325.11" cy="168.24" r="1.75" fill="#8cbc78" fill-opacity="0.55" stroke="#6a9a50" stroke-width="0.7"/>
<circle cx="327.07" cy="168.11" r="1.75" fill="#8cbc78" fill-opacity="0.55" stroke="#6a9a50" stroke-width="0.7"/>
<circle cx="329.37" cy="167.58" r="1.75" fill="#4ab0b2" fill-opacity="0.55" stroke="#2e9a9e" stroke-width="0.7"/>
<circle cx="331.95" cy="168.03" r="1.75" fill="#8cbc78" fill-opacity="0.55" stroke="#6a9a50" stroke-width="0.7"/>
<circle cx="334.44" cy="167.73" r="1.75" fill="#8cbc78" fill-opacity="0.55" stroke="#6a9a50" stroke-width="0.7"/>
<circle cx="337.11" cy="167.50" r="1.75" fill="#4ab0b2" fill-opacity="0.55" stroke="#2e9a9e" stroke-width="0.7"/>
<circle cx="339.61" cy="167.52" r="1.75" fill="#4ab0b2" fill-opacity="0.55" stroke="#2e9a9e" stroke-width="0.7"/>
<circle cx="341.81" cy="167.63" r="1.75" fill="#4ab0b2" fill-opacity="0.55" stroke="#2e9a9e" stroke-width="0.7"/>
<circle cx="343.93" cy="167.88" r="1.75" fill="#4ab0b2" fill-opacity="0.55" stroke="#2e9a9e" stroke-width="0.7"/>
<circle cx="346.54" cy="167.74" r="1.75" fill="#4ab0b2" fill-opacity="0.55" stroke="#2e9a9e" stroke-width="0.7"/>
<circle cx="348.92" cy="167.88" r="1.75" fill="#4ab0b2" fill-opacity="0.55" stroke="#2e9a9e" stroke-width="0.7"/>
<circle cx="351.09" cy="167.59" r="1.75" fill="#4ab0b2" fill-opacity="0.55" stroke="#2e9a9e" stroke-width="0.7"/>
<circle cx="353.92" cy="167.98" r="1.75" fill="#4ab0b2" fill-opacity="0.55" stroke="#2e9a9e" stroke-width="0.7"/>
<circle cx="356.23" cy="168.17" r="1.75" fill="#4ab0b2" fill-opacity="0.55" stroke="#2e9a9e" stroke-width="0.7"/>
<circle cx="326.30" cy="170.26" r="1.75" fill="#4ab0b2" fill-opacity="0.55" stroke="#2e9a9e" stroke-width="0.7"/>
<circle cx="328.36" cy="170.15" r="1.75" fill="#8cbc78" fill-opacity="0.55" stroke="#6a9a50" stroke-width="0.7"/>
<circle cx="331.28" cy="170.30" r="1.75" fill="#4ab0b2" fill-opacity="0.55" stroke="#2e9a9e" stroke-width="0.7"/>
<circle cx="333.23" cy="169.77" r="1.75" fill="#4ab0b2" fill-opacity="0.55" stroke="#2e9a9e" stroke-width="0.7"/>
<circle cx="336.18" cy="169.68" r="1.75" fill="#4ab0b2" fill-opacity="0.55" stroke="#2e9a9e" stroke-width="0.7"/>
<circle cx="338.65" cy="170.28" r="1.75" fill="#4ab0b2" fill-opacity="0.55" stroke="#2e9a9e" stroke-width="0.7"/>
<circle cx="340.27" cy="169.70" r="1.75" fill="#4ab0b2" fill-opacity="0.55" stroke="#2e9a9e" stroke-width="0.7"/>
<circle cx="343.20" cy="169.72" r="1.75" fill="#4ab0b2" fill-opacity="0.55" stroke="#2e9a9e" stroke-width="0.7"/>
<circle cx="345.04" cy="170.23" r="1.75" fill="#8cbc78" fill-opacity="0.55" stroke="#6a9a50" stroke-width="0.7"/>
<circle cx="347.73" cy="170.20" r="1.75" fill="#4ab0b2" fill-opacity="0.55" stroke="#2e9a9e" stroke-width="0.7"/>
<circle cx="349.86" cy="169.85" r="1.75" fill="#4ab0b2" fill-opacity="0.55" stroke="#2e9a9e" stroke-width="0.7"/>
<circle cx="352.77" cy="169.50" r="1.75" fill="#8cbc78" fill-opacity="0.55" stroke="#6a9a50" stroke-width="0.7"/>
<circle cx="354.73" cy="170.10" r="1.75" fill="#8cbc78" fill-opacity="0.55" stroke="#6a9a50" stroke-width="0.7"/>
<circle cx="330.17" cy="172.44" r="1.75" fill="#4ab0b2" fill-opacity="0.55" stroke="#2e9a9e" stroke-width="0.7"/>
<circle cx="331.85" cy="172.02" r="1.75" fill="#4ab0b2" fill-opacity="0.55" stroke="#2e9a9e" stroke-width="0.7"/>
<circle cx="334.83" cy="172.02" r="1.75" fill="#4ab0b2" fill-opacity="0.55" stroke="#2e9a9e" stroke-width="0.7"/>
<circle cx="337.17" cy="171.73" r="1.75" fill="#4ab0b2" fill-opacity="0.55" stroke="#2e9a9e" stroke-width="0.7"/>
<circle cx="339.01" cy="171.66" r="1.75" fill="#4ab0b2" fill-opacity="0.55" stroke="#2e9a9e" stroke-width="0.7"/>
<circle cx="341.38" cy="172.06" r="1.75" fill="#4ab0b2" fill-opacity="0.55" stroke="#2e9a9e" stroke-width="0.7"/>
<circle cx="344.21" cy="172.08" r="1.75" fill="#4ab0b2" fill-opacity="0.55" stroke="#2e9a9e" stroke-width="0.7"/>
<circle cx="346.28" cy="171.73" r="1.75" fill="#4ab0b2" fill-opacity="0.55" stroke="#2e9a9e" stroke-width="0.7"/>
<circle cx="348.73" cy="172.32" r="1.75" fill="#4ab0b2" fill-opacity="0.55" stroke="#2e9a9e" stroke-width="0.7"/>
<circle cx="351.84" cy="172.40" r="1.75" fill="#4ab0b2" fill-opacity="0.55" stroke="#2e9a9e" stroke-width="0.7"/>
<circle cx="335.44" cy="173.70" r="1.75" fill="#8cbc78" fill-opacity="0.55" stroke="#6a9a50" stroke-width="0.7"/>
<circle cx="338.61" cy="174.06" r="1.75" fill="#4ab0b2" fill-opacity="0.55" stroke="#2e9a9e" stroke-width="0.7"/>
<circle cx="340.84" cy="173.94" r="1.75" fill="#4ab0b2" fill-opacity="0.55" stroke="#2e9a9e" stroke-width="0.7"/>
<circle cx="342.97" cy="174.11" r="1.75" fill="#8cbc78" fill-opacity="0.55" stroke="#6a9a50" stroke-width="0.7"/>
<circle cx="345.34" cy="174.18" r="1.75" fill="#4ab0b2" fill-opacity="0.55" stroke="#2e9a9e" stroke-width="0.7"/>
<circle cx="347.36" cy="174.27" r="1.75" fill="#8cbc78" fill-opacity="0.55" stroke="#6a9a50" stroke-width="0.7"/>
<circle cx="334.91" cy="175.88" r="1.75" fill="#4ab0b2" fill-opacity="0.55" stroke="#2e9a9e" stroke-width="0.7"/>
<circle cx="336.96" cy="176.39" r="1.75" fill="#8cbc78" fill-opacity="0.55" stroke="#6a9a50" stroke-width="0.7"/>
<circle cx="339.31" cy="175.90" r="1.75" fill="#4ab0b2" fill-opacity="0.55" stroke="#2e9a9e" stroke-width="0.7"/>
<circle cx="341.50" cy="176.18" r="1.75" fill="#4ab0b2" fill-opacity="0.55" stroke="#2e9a9e" stroke-width="0.7"/>
<circle cx="343.76" cy="176.52" r="1.75" fill="#8cbc78" fill-opacity="0.55" stroke="#6a9a50" stroke-width="0.7"/>
<circle cx="346.87" cy="176.35" r="1.75" fill="#4ab0b2" fill-opacity="0.55" stroke="#2e9a9e" stroke-width="0.7"/>
<circle cx="335.00" cy="182.10" r="1.75" fill="#b4d2d8" fill-opacity="0.75" stroke="#4a7080" stroke-width="0.85"/>
<circle cx="339.20" cy="182.10" r="1.75" fill="#b4d2d8" fill-opacity="0.75" stroke="#4a7080" stroke-width="0.85"/>
<circle cx="343.40" cy="182.10" r="1.75" fill="#bcd2aa" fill-opacity="0.75" stroke="#506848" stroke-width="0.85"/>
<circle cx="338.40" cy="185.50" r="1.75" fill="#b4d2d8" fill-opacity="0.75" stroke="#4a7080" stroke-width="0.85"/>
<circle cx="339.20" cy="188.90" r="1.75" fill="#b4d2d8" fill-opacity="0.75" stroke="#4a7080" stroke-width="0.85"/>
<circle cx="338.40" cy="191.40" r="1.75" fill="#b4d2d8" fill-opacity="0.75" stroke="#4a7080" stroke-width="0.85"/>
<circle cx="337.50" cy="195.70" r="1.75" fill="#bcd2aa" fill-opacity="0.75" stroke="#506848" stroke-width="0.85"/>
<circle cx="340.90" cy="198.20" r="1.75" fill="#bcd2aa" fill-opacity="0.75" stroke="#506848" stroke-width="0.85"/>
<circle cx="343.40" cy="198.20" r="1.75" fill="#bcd2aa" fill-opacity="0.75" stroke="#506848" stroke-width="0.85"/>
<circle cx="339.20" cy="204.20" r="1.75" fill="#b4d2d8" fill-opacity="0.75" stroke="#4a7080" stroke-width="0.85"/>
<circle cx="340.00" cy="207.50" r="1.75" fill="#bcd2aa" fill-opacity="0.75" stroke="#506848" stroke-width="0.85"/>
<circle cx="375.88" cy="168.30" r="1.75" fill="#acacd6" fill-opacity="0.5" stroke="#6c6ca6" stroke-width="0.7"/>
<circle cx="378.12" cy="168.31" r="1.75" fill="#acacd6" fill-opacity="0.5" stroke="#6c6ca6" stroke-width="0.7"/>
<circle cx="380.85" cy="168.75" r="1.75" fill="#acacd6" fill-opacity="0.5" stroke="#6c6ca6" stroke-width="0.7"/>
<circle cx="383.11" cy="169.08" r="1.75" fill="#acacd6" fill-opacity="0.5" stroke="#6c6ca6" stroke-width="0.7"/>
<circle cx="386.17" cy="168.66" r="1.75" fill="#acacd6" fill-opacity="0.5" stroke="#6c6ca6" stroke-width="0.7"/>
<circle cx="389.05" cy="168.50" r="1.75" fill="#acacd6" fill-opacity="0.5" stroke="#6c6ca6" stroke-width="0.7"/>
<circle cx="391.44" cy="168.79" r="1.75" fill="#acacd6" fill-opacity="0.5" stroke="#6c6ca6" stroke-width="0.7"/>
<circle cx="394.41" cy="168.42" r="1.75" fill="#acacd6" fill-opacity="0.5" stroke="#6c6ca6" stroke-width="0.7"/>
<circle cx="397.27" cy="168.43" r="1.75" fill="#e6dc84" fill-opacity="0.5" stroke="#c2b442" stroke-width="0.7"/>
<circle cx="399.26" cy="168.38" r="1.75" fill="#acacd6" fill-opacity="0.5" stroke="#6c6ca6" stroke-width="0.7"/>
<circle cx="401.99" cy="168.29" r="1.75" fill="#acacd6" fill-opacity="0.5" stroke="#6c6ca6" stroke-width="0.7"/>
<circle cx="374.35" cy="170.87" r="1.75" fill="#acacd6" fill-opacity="0.5" stroke="#6c6ca6" stroke-width="0.7"/>
<circle cx="377.20" cy="171.22" r="1.75" fill="#e6dc84" fill-opacity="0.5" stroke="#c2b442" stroke-width="0.7"/>
<circle cx="379.05" cy="171.47" r="1.75" fill="#acacd6" fill-opacity="0.5" stroke="#6c6ca6" stroke-width="0.7"/>
<circle cx="382.64" cy="170.55" r="1.75" fill="#acacd6" fill-opacity="0.5" stroke="#6c6ca6" stroke-width="0.7"/>
<circle cx="385.31" cy="170.91" r="1.75" fill="#acacd6" fill-opacity="0.5" stroke="#6c6ca6" stroke-width="0.7"/>
<circle cx="387.58" cy="171.45" r="1.75" fill="#e6dc84" fill-opacity="0.5" stroke="#c2b442" stroke-width="0.7"/>
<circle cx="390.04" cy="171.00" r="1.75" fill="#acacd6" fill-opacity="0.5" stroke="#6c6ca6" stroke-width="0.7"/>
<circle cx="393.44" cy="171.20" r="1.75" fill="#acacd6" fill-opacity="0.5" stroke="#6c6ca6" stroke-width="0.7"/>
<circle cx="395.67" cy="171.46" r="1.75" fill="#acacd6" fill-opacity="0.5" stroke="#6c6ca6" stroke-width="0.7"/>
<circle cx="398.72" cy="171.08" r="1.75" fill="#acacd6" fill-opacity="0.5" stroke="#6c6ca6" stroke-width="0.7"/>
<circle cx="400.72" cy="171.10" r="1.75" fill="#acacd6" fill-opacity="0.5" stroke="#6c6ca6" stroke-width="0.7"/>
<circle cx="375.41" cy="173.02" r="1.75" fill="#acacd6" fill-opacity="0.5" stroke="#6c6ca6" stroke-width="0.7"/>
<circle cx="377.70" cy="173.34" r="1.75" fill="#acacd6" fill-opacity="0.5" stroke="#6c6ca6" stroke-width="0.7"/>
<circle cx="380.47" cy="173.26" r="1.75" fill="#acacd6" fill-opacity="0.5" stroke="#6c6ca6" stroke-width="0.7"/>
<circle cx="383.72" cy="173.27" r="1.75" fill="#acacd6" fill-opacity="0.5" stroke="#6c6ca6" stroke-width="0.7"/>
<circle cx="386.01" cy="173.40" r="1.75" fill="#acacd6" fill-opacity="0.5" stroke="#6c6ca6" stroke-width="0.7"/>
<circle cx="388.87" cy="173.59" r="1.75" fill="#acacd6" fill-opacity="0.5" stroke="#6c6ca6" stroke-width="0.7"/>
<circle cx="391.68" cy="173.81" r="1.75" fill="#acacd6" fill-opacity="0.5" stroke="#6c6ca6" stroke-width="0.7"/>
<circle cx="394.80" cy="173.55" r="1.75" fill="#acacd6" fill-opacity="0.5" stroke="#6c6ca6" stroke-width="0.7"/>
<circle cx="396.79" cy="172.93" r="1.75" fill="#acacd6" fill-opacity="0.5" stroke="#6c6ca6" stroke-width="0.7"/>
<circle cx="400.14" cy="173.60" r="1.75" fill="#acacd6" fill-opacity="0.5" stroke="#6c6ca6" stroke-width="0.7"/>
<circle cx="402.57" cy="173.17" r="1.75" fill="#acacd6" fill-opacity="0.5" stroke="#6c6ca6" stroke-width="0.7"/>
<circle cx="376.57" cy="175.84" r="1.75" fill="#acacd6" fill-opacity="0.5" stroke="#6c6ca6" stroke-width="0.7"/>
<circle cx="379.56" cy="175.74" r="1.75" fill="#acacd6" fill-opacity="0.5" stroke="#6c6ca6" stroke-width="0.7"/>
<circle cx="382.33" cy="175.91" r="1.75" fill="#acacd6" fill-opacity="0.5" stroke="#6c6ca6" stroke-width="0.7"/>
<circle cx="384.59" cy="175.40" r="1.75" fill="#acacd6" fill-opacity="0.5" stroke="#6c6ca6" stroke-width="0.7"/>
<circle cx="388.08" cy="176.07" r="1.75" fill="#acacd6" fill-opacity="0.5" stroke="#6c6ca6" stroke-width="0.7"/>
<circle cx="390.68" cy="175.19" r="1.75" fill="#acacd6" fill-opacity="0.5" stroke="#6c6ca6" stroke-width="0.7"/>
<circle cx="392.56" cy="175.42" r="1.75" fill="#e6dc84" fill-opacity="0.5" stroke="#c2b442" stroke-width="0.7"/>
<circle cx="395.63" cy="175.78" r="1.75" fill="#e6dc84" fill-opacity="0.5" stroke="#c2b442" stroke-width="0.7"/>
<circle cx="398.00" cy="175.69" r="1.75" fill="#e6dc84" fill-opacity="0.5" stroke="#c2b442" stroke-width="0.7"/>
<circle cx="377.72" cy="177.58" r="1.75" fill="#acacd6" fill-opacity="0.5" stroke="#6c6ca6" stroke-width="0.7"/>
<circle cx="381.03" cy="178.04" r="1.75" fill="#acacd6" fill-opacity="0.5" stroke="#6c6ca6" stroke-width="0.7"/>
<circle cx="383.68" cy="177.86" r="1.75" fill="#acacd6" fill-opacity="0.5" stroke="#6c6ca6" stroke-width="0.7"/>
<circle cx="386.23" cy="177.70" r="1.75" fill="#acacd6" fill-opacity="0.5" stroke="#6c6ca6" stroke-width="0.7"/>
<circle cx="388.79" cy="178.24" r="1.75" fill="#acacd6" fill-opacity="0.5" stroke="#6c6ca6" stroke-width="0.7"/>
<circle cx="391.99" cy="177.57" r="1.75" fill="#e6dc84" fill-opacity="0.5" stroke="#c2b442" stroke-width="0.7"/>
<circle cx="393.97" cy="178.30" r="1.75" fill="#e6dc84" fill-opacity="0.5" stroke="#c2b442" stroke-width="0.7"/>
<circle cx="390.80" cy="181.60" r="1.75" fill="#acacd6" fill-opacity="0.55" stroke="#6c6ca6" stroke-width="0.8"/>
<circle cx="392.10" cy="184.20" r="1.75" fill="#acacd6" fill-opacity="0.55" stroke="#6c6ca6" stroke-width="0.8"/>
<circle cx="389.00" cy="185.40" r="1.75" fill="#acacd6" fill-opacity="0.55" stroke="#6c6ca6" stroke-width="0.8"/>
<circle cx="387.70" cy="187.90" r="1.75" fill="#acacd6" fill-opacity="0.55" stroke="#6c6ca6" stroke-width="0.8"/>
<circle cx="383.40" cy="189.20" r="1.75" fill="#e6dc84" fill-opacity="0.55" stroke="#c2b442" stroke-width="0.8"/>
<circle cx="385.90" cy="191.00" r="1.75" fill="#acacd6" fill-opacity="0.55" stroke="#6c6ca6" stroke-width="0.8"/>
<circle cx="385.30" cy="192.90" r="1.75" fill="#acacd6" fill-opacity="0.55" stroke="#6c6ca6" stroke-width="0.8"/>
<circle cx="389.00" cy="194.80" r="1.75" fill="#e6dc84" fill-opacity="0.55" stroke="#c2b442" stroke-width="0.8"/>
<circle cx="389.60" cy="196.60" r="1.75" fill="#acacd6" fill-opacity="0.55" stroke="#6c6ca6" stroke-width="0.8"/>
<circle cx="385.90" cy="197.90" r="1.75" fill="#acacd6" fill-opacity="0.55" stroke="#6c6ca6" stroke-width="0.8"/>
<circle cx="387.70" cy="200.30" r="1.75" fill="#c8c8e2" fill-opacity="0.75" stroke="#5a5a7c" stroke-width="0.85"/>
<circle cx="386.90" cy="205.40" r="1.75" fill="#c8c8e2" fill-opacity="0.75" stroke="#5a5a7c" stroke-width="0.85"/>
<circle cx="387.70" cy="208.00" r="1.75" fill="#c8c8e2" fill-opacity="0.75" stroke="#5a5a7c" stroke-width="0.85"/>
<circle cx="386.90" cy="211.40" r="1.75" fill="#c8c8e2" fill-opacity="0.75" stroke="#5a5a7c" stroke-width="0.85"/>
<circle cx="386.00" cy="214.70" r="1.75" fill="#c8c8e2" fill-opacity="0.75" stroke="#5a5a7c" stroke-width="0.85"/>
<circle cx="387.70" cy="228.30" r="1.75" fill="#c8c8e2" fill-opacity="0.75" stroke="#5a5a7c" stroke-width="0.85"/>
<circle cx="387.70" cy="246.90" r="1.75" fill="#c8c8e2" fill-opacity="0.75" stroke="#5a5a7c" stroke-width="0.85"/>
<circle cx="388.20" cy="248.90" r="1.75" fill="#c8c8e2" fill-opacity="0.75" stroke="#5a5a7c" stroke-width="0.85"/>
<circle cx="387.20" cy="262.50" r="1.75" fill="#c8c8e2" fill-opacity="0.75" stroke="#5a5a7c" stroke-width="0.85"/>
<circle cx="389.40" cy="280.40" r="1.75" fill="#c8c8e2" fill-opacity="0.75" stroke="#5a5a7c" stroke-width="0.85"/>
<circle cx="386.00" cy="284.20" r="1.75" fill="#c8c8e2" fill-opacity="0.75" stroke="#5a5a7c" stroke-width="0.85"/>
<circle cx="387.70" cy="285.80" r="1.75" fill="#c8c8e2" fill-opacity="0.75" stroke="#5a5a7c" stroke-width="0.85"/>
<circle cx="384.20" cy="289.60" r="1.75" fill="#9a9ad0" fill-opacity="0.75" stroke="#7070b0" stroke-width="0.7"/>
<circle cx="386.40" cy="289.90" r="1.75" fill="#9a9ad0" fill-opacity="0.75" stroke="#7070b0" stroke-width="0.7"/>
<circle cx="388.60" cy="290.00" r="1.75" fill="#9a9ad0" fill-opacity="0.75" stroke="#7070b0" stroke-width="0.7"/>
<circle cx="390.80" cy="289.90" r="1.75" fill="#9a9ad0" fill-opacity="0.75" stroke="#7070b0" stroke-width="0.7"/>
<circle cx="392.60" cy="289.70" r="1.75" fill="#9a9ad0" fill-opacity="0.75" stroke="#7070b0" stroke-width="0.7"/>
<circle cx="385.50" cy="288.40" r="1.75" fill="#9a9ad0" fill-opacity="0.75" stroke="#7070b0" stroke-width="0.7"/>
<circle cx="389.50" cy="288.60" r="1.75" fill="#9a9ad0" fill-opacity="0.75" stroke="#7070b0" stroke-width="0.7"/>
<circle cx="423.95" cy="165.51" r="1.75" fill="#4ab0b2" fill-opacity="0.6" stroke="#2e9a9e" stroke-width="0.7"/>
<circle cx="426.14" cy="165.51" r="1.75" fill="#4ab0b2" fill-opacity="0.6" stroke="#2e9a9e" stroke-width="0.7"/>
<circle cx="428.27" cy="165.53" r="1.75" fill="#4ab0b2" fill-opacity="0.6" stroke="#2e9a9e" stroke-width="0.7"/>
<circle cx="430.21" cy="165.67" r="1.75" fill="#4ab0b2" fill-opacity="0.6" stroke="#2e9a9e" stroke-width="0.7"/>
<circle cx="432.79" cy="165.65" r="1.75" fill="#5cbc98" fill-opacity="0.6" stroke="#3c9c80" stroke-width="0.7"/>
<circle cx="434.92" cy="165.67" r="1.75" fill="#4ab0b2" fill-opacity="0.6" stroke="#2e9a9e" stroke-width="0.7"/>
<circle cx="436.49" cy="165.83" r="1.75" fill="#5cbc98" fill-opacity="0.6" stroke="#3c9c80" stroke-width="0.7"/>
<circle cx="439.15" cy="165.44" r="1.75" fill="#4ab0b2" fill-opacity="0.6" stroke="#2e9a9e" stroke-width="0.7"/>
<circle cx="440.57" cy="165.63" r="1.75" fill="#5cbc98" fill-opacity="0.6" stroke="#3c9c80" stroke-width="0.7"/>
<circle cx="443.09" cy="165.67" r="1.75" fill="#4ab0b2" fill-opacity="0.6" stroke="#2e9a9e" stroke-width="0.7"/>
<circle cx="445.52" cy="165.74" r="1.75" fill="#5cbc98" fill-opacity="0.6" stroke="#3c9c80" stroke-width="0.7"/>
<circle cx="419.14" cy="167.09" r="1.75" fill="#4ab0b2" fill-opacity="0.6" stroke="#2e9a9e" stroke-width="0.7"/>
<circle cx="421.04" cy="167.67" r="1.75" fill="#4ab0b2" fill-opacity="0.6" stroke="#2e9a9e" stroke-width="0.7"/>
<circle cx="422.77" cy="167.10" r="1.75" fill="#4ab0b2" fill-opacity="0.6" stroke="#2e9a9e" stroke-width="0.7"/>
<circle cx="425.39" cy="167.76" r="1.75" fill="#4ab0b2" fill-opacity="0.6" stroke="#2e9a9e" stroke-width="0.7"/>
<circle cx="426.97" cy="167.54" r="1.75" fill="#5cbc98" fill-opacity="0.6" stroke="#3c9c80" stroke-width="0.7"/>
<circle cx="429.12" cy="167.63" r="1.75" fill="#4ab0b2" fill-opacity="0.6" stroke="#2e9a9e" stroke-width="0.7"/>
<circle cx="431.62" cy="167.23" r="1.75" fill="#4ab0b2" fill-opacity="0.6" stroke="#2e9a9e" stroke-width="0.7"/>
<circle cx="433.38" cy="167.65" r="1.75" fill="#5cbc98" fill-opacity="0.6" stroke="#3c9c80" stroke-width="0.7"/>
<circle cx="435.72" cy="167.65" r="1.75" fill="#4ab0b2" fill-opacity="0.6" stroke="#2e9a9e" stroke-width="0.7"/>
<circle cx="437.72" cy="167.31" r="1.75" fill="#4ab0b2" fill-opacity="0.6" stroke="#2e9a9e" stroke-width="0.7"/>
<circle cx="440.27" cy="167.58" r="1.75" fill="#4ab0b2" fill-opacity="0.6" stroke="#2e9a9e" stroke-width="0.7"/>
<circle cx="441.99" cy="167.47" r="1.75" fill="#4ab0b2" fill-opacity="0.6" stroke="#2e9a9e" stroke-width="0.7"/>
<circle cx="444.28" cy="167.60" r="1.75" fill="#4ab0b2" fill-opacity="0.6" stroke="#2e9a9e" stroke-width="0.7"/>
<circle cx="446.53" cy="167.37" r="1.75" fill="#4ab0b2" fill-opacity="0.6" stroke="#2e9a9e" stroke-width="0.7"/>
<circle cx="448.56" cy="167.57" r="1.75" fill="#4ab0b2" fill-opacity="0.6" stroke="#2e9a9e" stroke-width="0.7"/>
<circle cx="450.68" cy="167.68" r="1.75" fill="#5cbc98" fill-opacity="0.6" stroke="#3c9c80" stroke-width="0.7"/>
<circle cx="420.22" cy="169.57" r="1.75" fill="#4ab0b2" fill-opacity="0.6" stroke="#2e9a9e" stroke-width="0.7"/>
<circle cx="422.42" cy="169.37" r="1.75" fill="#4ab0b2" fill-opacity="0.6" stroke="#2e9a9e" stroke-width="0.7"/>
<circle cx="424.17" cy="169.42" r="1.75" fill="#4ab0b2" fill-opacity="0.6" stroke="#2e9a9e" stroke-width="0.7"/>
<circle cx="426.49" cy="169.19" r="1.75" fill="#5cbc98" fill-opacity="0.6" stroke="#3c9c80" stroke-width="0.7"/>
<circle cx="428.29" cy="168.97" r="1.75" fill="#5cbc98" fill-opacity="0.6" stroke="#3c9c80" stroke-width="0.7"/>
<circle cx="430.64" cy="169.65" r="1.75" fill="#4ab0b2" fill-opacity="0.6" stroke="#2e9a9e" stroke-width="0.7"/>
<circle cx="432.45" cy="168.99" r="1.75" fill="#4ab0b2" fill-opacity="0.6" stroke="#2e9a9e" stroke-width="0.7"/>
<circle cx="434.41" cy="169.20" r="1.75" fill="#4ab0b2" fill-opacity="0.6" stroke="#2e9a9e" stroke-width="0.7"/>
<circle cx="436.58" cy="169.63" r="1.75" fill="#4ab0b2" fill-opacity="0.6" stroke="#2e9a9e" stroke-width="0.7"/>
<circle cx="438.50" cy="169.10" r="1.75" fill="#4ab0b2" fill-opacity="0.6" stroke="#2e9a9e" stroke-width="0.7"/>
<circle cx="440.64" cy="169.37" r="1.75" fill="#4ab0b2" fill-opacity="0.6" stroke="#2e9a9e" stroke-width="0.7"/>
<circle cx="443.27" cy="169.00" r="1.75" fill="#5cbc98" fill-opacity="0.6" stroke="#3c9c80" stroke-width="0.7"/>
<circle cx="444.80" cy="169.22" r="1.75" fill="#5cbc98" fill-opacity="0.6" stroke="#3c9c80" stroke-width="0.7"/>
<circle cx="447.32" cy="169.58" r="1.75" fill="#4ab0b2" fill-opacity="0.6" stroke="#2e9a9e" stroke-width="0.7"/>
<circle cx="448.98" cy="168.94" r="1.75" fill="#4ab0b2" fill-opacity="0.6" stroke="#2e9a9e" stroke-width="0.7"/>
<circle cx="422.85" cy="170.85" r="1.75" fill="#4ab0b2" fill-opacity="0.6" stroke="#2e9a9e" stroke-width="0.7"/>
<circle cx="424.99" cy="171.25" r="1.75" fill="#4ab0b2" fill-opacity="0.6" stroke="#2e9a9e" stroke-width="0.7"/>
<circle cx="427.38" cy="170.85" r="1.75" fill="#4ab0b2" fill-opacity="0.6" stroke="#2e9a9e" stroke-width="0.7"/>
<circle cx="429.15" cy="170.90" r="1.75" fill="#4ab0b2" fill-opacity="0.6" stroke="#2e9a9e" stroke-width="0.7"/>
<circle cx="431.24" cy="171.28" r="1.75" fill="#4ab0b2" fill-opacity="0.6" stroke="#2e9a9e" stroke-width="0.7"/>
<circle cx="433.45" cy="171.11" r="1.75" fill="#4ab0b2" fill-opacity="0.6" stroke="#2e9a9e" stroke-width="0.7"/>
<circle cx="435.95" cy="171.06" r="1.75" fill="#4ab0b2" fill-opacity="0.6" stroke="#2e9a9e" stroke-width="0.7"/>
<circle cx="437.61" cy="171.38" r="1.75" fill="#5cbc98" fill-opacity="0.6" stroke="#3c9c80" stroke-width="0.7"/>
<circle cx="440.23" cy="170.95" r="1.75" fill="#5cbc98" fill-opacity="0.6" stroke="#3c9c80" stroke-width="0.7"/>
<circle cx="442.04" cy="171.44" r="1.75" fill="#4ab0b2" fill-opacity="0.6" stroke="#2e9a9e" stroke-width="0.7"/>
<circle cx="444.09" cy="170.85" r="1.75" fill="#4ab0b2" fill-opacity="0.6" stroke="#2e9a9e" stroke-width="0.7"/>
<circle cx="445.84" cy="171.43" r="1.75" fill="#5cbc98" fill-opacity="0.6" stroke="#3c9c80" stroke-width="0.7"/>
<circle cx="426.49" cy="172.80" r="1.75" fill="#5cbc98" fill-opacity="0.6" stroke="#3c9c80" stroke-width="0.7"/>
<circle cx="428.37" cy="172.91" r="1.75" fill="#4ab0b2" fill-opacity="0.6" stroke="#2e9a9e" stroke-width="0.7"/>
<circle cx="430.27" cy="173.29" r="1.75" fill="#4ab0b2" fill-opacity="0.6" stroke="#2e9a9e" stroke-width="0.7"/>
<circle cx="432.68" cy="172.68" r="1.75" fill="#4ab0b2" fill-opacity="0.6" stroke="#2e9a9e" stroke-width="0.7"/>
<circle cx="434.26" cy="172.87" r="1.75" fill="#4ab0b2" fill-opacity="0.6" stroke="#2e9a9e" stroke-width="0.7"/>
<circle cx="436.65" cy="173.13" r="1.75" fill="#5cbc98" fill-opacity="0.6" stroke="#3c9c80" stroke-width="0.7"/>
<circle cx="439.02" cy="172.98" r="1.75" fill="#5cbc98" fill-opacity="0.6" stroke="#3c9c80" stroke-width="0.7"/>
<circle cx="440.68" cy="172.62" r="1.75" fill="#4ab0b2" fill-opacity="0.6" stroke="#2e9a9e" stroke-width="0.7"/>
<circle cx="427.16" cy="174.52" r="1.75" fill="#5cbc98" fill-opacity="0.6" stroke="#3c9c80" stroke-width="0.7"/>
<circle cx="429.70" cy="174.72" r="1.75" fill="#5cbc98" fill-opacity="0.6" stroke="#3c9c80" stroke-width="0.7"/>
<circle cx="431.61" cy="175.11" r="1.75" fill="#4ab0b2" fill-opacity="0.6" stroke="#2e9a9e" stroke-width="0.7"/>
<circle cx="433.41" cy="174.74" r="1.75" fill="#5cbc98" fill-opacity="0.6" stroke="#3c9c80" stroke-width="0.7"/>
<circle cx="435.42" cy="174.93" r="1.75" fill="#4ab0b2" fill-opacity="0.6" stroke="#2e9a9e" stroke-width="0.7"/>
<circle cx="437.40" cy="174.97" r="1.75" fill="#4ab0b2" fill-opacity="0.6" stroke="#2e9a9e" stroke-width="0.7"/>
<circle cx="440.18" cy="174.97" r="1.75" fill="#4ab0b2" fill-opacity="0.6" stroke="#2e9a9e" stroke-width="0.7"/>
<circle cx="428.02" cy="176.35" r="1.75" fill="#4ab0b2" fill-opacity="0.6" stroke="#2e9a9e" stroke-width="0.7"/>
<circle cx="430.62" cy="176.21" r="1.75" fill="#4ab0b2" fill-opacity="0.6" stroke="#2e9a9e" stroke-width="0.7"/>
<circle cx="432.53" cy="176.51" r="1.75" fill="#4ab0b2" fill-opacity="0.6" stroke="#2e9a9e" stroke-width="0.7"/>
<circle cx="435.01" cy="176.60" r="1.75" fill="#4ab0b2" fill-opacity="0.6" stroke="#2e9a9e" stroke-width="0.7"/>
<circle cx="437.04" cy="176.37" r="1.75" fill="#5cbc98" fill-opacity="0.6" stroke="#3c9c80" stroke-width="0.7"/>
<circle cx="439.08" cy="176.46" r="1.75" fill="#4ab0b2" fill-opacity="0.6" stroke="#2e9a9e" stroke-width="0.7"/>
<circle cx="429.73" cy="178.02" r="1.75" fill="#4ab0b2" fill-opacity="0.6" stroke="#2e9a9e" stroke-width="0.7"/>
<circle cx="431.76" cy="178.12" r="1.75" fill="#4ab0b2" fill-opacity="0.6" stroke="#2e9a9e" stroke-width="0.7"/>
<circle cx="433.63" cy="178.37" r="1.75" fill="#5cbc98" fill-opacity="0.6" stroke="#3c9c80" stroke-width="0.7"/>
<circle cx="435.43" cy="178.61" r="1.75" fill="#4ab0b2" fill-opacity="0.6" stroke="#2e9a9e" stroke-width="0.7"/>
<circle cx="437.65" cy="178.20" r="1.75" fill="#5cbc98" fill-opacity="0.6" stroke="#3c9c80" stroke-width="0.7"/>
<circle cx="430.11" cy="180.01" r="1.75" fill="#4ab0b2" fill-opacity="0.6" stroke="#2e9a9e" stroke-width="0.7"/>
<circle cx="432.52" cy="180.34" r="1.75" fill="#4ab0b2" fill-opacity="0.6" stroke="#2e9a9e" stroke-width="0.7"/>
<circle cx="434.54" cy="180.32" r="1.75" fill="#4ab0b2" fill-opacity="0.6" stroke="#2e9a9e" stroke-width="0.7"/>
<circle cx="436.43" cy="180.08" r="1.75" fill="#4ab0b2" fill-opacity="0.6" stroke="#2e9a9e" stroke-width="0.7"/>
<circle cx="431.47" cy="182.36" r="1.75" fill="#5cbc98" fill-opacity="0.6" stroke="#3c9c80" stroke-width="0.7"/>
<circle cx="433.86" cy="182.11" r="1.75" fill="#5cbc98" fill-opacity="0.6" stroke="#3c9c80" stroke-width="0.7"/>
<circle cx="435.31" cy="181.89" r="1.75" fill="#5cbc98" fill-opacity="0.6" stroke="#3c9c80" stroke-width="0.7"/>
<circle cx="437.97" cy="181.78" r="1.75" fill="#4ab0b2" fill-opacity="0.6" stroke="#2e9a9e" stroke-width="0.7"/>
<circle cx="432.60" cy="183.77" r="1.75" fill="#4ab0b2" fill-opacity="0.6" stroke="#2e9a9e" stroke-width="0.7"/>
<circle cx="434.26" cy="184.20" r="1.75" fill="#5cbc98" fill-opacity="0.6" stroke="#3c9c80" stroke-width="0.7"/>
<circle cx="436.99" cy="183.57" r="1.75" fill="#4ab0b2" fill-opacity="0.6" stroke="#2e9a9e" stroke-width="0.7"/>
<circle cx="433.69" cy="185.46" r="1.75" fill="#5cbc98" fill-opacity="0.6" stroke="#3c9c80" stroke-width="0.7"/>
<circle cx="435.60" cy="185.66" r="1.75" fill="#4ab0b2" fill-opacity="0.6" stroke="#2e9a9e" stroke-width="0.7"/>
<circle cx="434.49" cy="187.31" r="1.75" fill="#4ab0b2" fill-opacity="0.6" stroke="#2e9a9e" stroke-width="0.7"/>
<circle cx="434.80" cy="193.90" r="1.75" fill="#b4d2d8" fill-opacity="0.75" stroke="#4a7080" stroke-width="0.85"/>
<circle cx="436.40" cy="198.80" r="1.75" fill="#b4d2d8" fill-opacity="0.75" stroke="#4a7080" stroke-width="0.85"/>
<circle cx="433.80" cy="208.70" r="1.75" fill="#bcd2aa" fill-opacity="0.75" stroke="#506848" stroke-width="0.85"/>
<circle cx="435.20" cy="233.40" r="1.75" fill="#b4d2d8" fill-opacity="0.75" stroke="#4a7080" stroke-width="0.85"/>
<circle cx="435.20" cy="247.80" r="1.75" fill="#bcd2aa" fill-opacity="0.75" stroke="#506848" stroke-width="0.85"/>
<circle cx="471.00" cy="166.20" r="1.75" fill="#acacd6" fill-opacity="0.55" stroke="#6c6ca6" stroke-width="0.8"/>
<circle cx="476.10" cy="167.30" r="1.75" fill="#e6dc84" fill-opacity="0.55" stroke="#c2b442" stroke-width="0.8"/>
<circle cx="482.90" cy="165.10" r="1.75" fill="#acacd6" fill-opacity="0.55" stroke="#6c6ca6" stroke-width="0.8"/>
<circle cx="485.70" cy="165.60" r="1.75" fill="#e6dc84" fill-opacity="0.55" stroke="#c2b442" stroke-width="0.8"/>
<circle cx="490.20" cy="168.50" r="1.75" fill="#e6dc84" fill-opacity="0.55" stroke="#c2b442" stroke-width="0.8"/>
<circle cx="494.20" cy="167.30" r="1.75" fill="#acacd6" fill-opacity="0.55" stroke="#6c6ca6" stroke-width="0.8"/>
<circle cx="467.10" cy="173.50" r="1.75" fill="#e6dc84" fill-opacity="0.55" stroke="#c2b442" stroke-width="0.8"/>
<circle cx="472.20" cy="171.90" r="1.75" fill="#acacd6" fill-opacity="0.55" stroke="#6c6ca6" stroke-width="0.8"/>
<circle cx="476.70" cy="173.00" r="1.75" fill="#e6dc84" fill-opacity="0.55" stroke="#c2b442" stroke-width="0.8"/>
<circle cx="480.10" cy="174.70" r="1.75" fill="#acacd6" fill-opacity="0.55" stroke="#6c6ca6" stroke-width="0.8"/>
<circle cx="484.60" cy="171.30" r="1.75" fill="#e6dc84" fill-opacity="0.55" stroke="#c2b442" stroke-width="0.8"/>
<circle cx="489.10" cy="173.00" r="1.75" fill="#acacd6" fill-opacity="0.55" stroke="#6c6ca6" stroke-width="0.8"/>
<circle cx="494.70" cy="173.50" r="1.75" fill="#e6dc84" fill-opacity="0.55" stroke="#c2b442" stroke-width="0.8"/>
<circle cx="471.00" cy="177.50" r="1.75" fill="#acacd6" fill-opacity="0.55" stroke="#6c6ca6" stroke-width="0.8"/>
<circle cx="484.00" cy="176.40" r="1.75" fill="#acacd6" fill-opacity="0.55" stroke="#6c6ca6" stroke-width="0.8"/>
<circle cx="479.50" cy="180.30" r="1.75" fill="#acacd6" fill-opacity="0.55" stroke="#6c6ca6" stroke-width="0.8"/>
<circle cx="480.60" cy="182.00" r="1.75" fill="#acacd6" fill-opacity="0.55" stroke="#6c6ca6" stroke-width="0.8"/>
<circle cx="489.10" cy="180.30" r="1.75" fill="#acacd6" fill-opacity="0.55" stroke="#6c6ca6" stroke-width="0.8"/>
<circle cx="478.00" cy="170.00" r="1.75" fill="#acacd6" fill-opacity="0.55" stroke="#6c6ca6" stroke-width="0.8"/>
<circle cx="487.00" cy="169.00" r="1.75" fill="#acacd6" fill-opacity="0.55" stroke="#6c6ca6" stroke-width="0.8"/>
<circle cx="468.00" cy="170.00" r="1.75" fill="#e6dc84" fill-opacity="0.55" stroke="#c2b442" stroke-width="0.8"/>
<circle cx="492.00" cy="171.00" r="1.75" fill="#acacd6" fill-opacity="0.55" stroke="#6c6ca6" stroke-width="0.8"/>
<circle cx="482.00" cy="172.00" r="1.75" fill="#e6dc84" fill-opacity="0.55" stroke="#c2b442" stroke-width="0.8"/>
<circle cx="474.00" cy="169.00" r="1.75" fill="#acacd6" fill-opacity="0.55" stroke="#6c6ca6" stroke-width="0.8"/>
<circle cx="482.80" cy="193.00" r="1.75" fill="#c8c8e2" fill-opacity="0.75" stroke="#5a5a7c" stroke-width="0.85"/>
<circle cx="480.40" cy="201.30" r="1.75" fill="#c8c8e2" fill-opacity="0.75" stroke="#5a5a7c" stroke-width="0.85"/>
<circle cx="484.30" cy="210.80" r="1.75" fill="#c8c8e2" fill-opacity="0.75" stroke="#5a5a7c" stroke-width="0.85"/>
<circle cx="484.30" cy="216.10" r="1.75" fill="#f2dab0" fill-opacity="0.75" stroke="#a07a48" stroke-width="0.85"/>
<circle cx="482.20" cy="230.10" r="1.75" fill="#c8c8e2" fill-opacity="0.75" stroke="#5a5a7c" stroke-width="0.85"/>
<circle cx="481.30" cy="236.60" r="1.75" fill="#c8c8e2" fill-opacity="0.75" stroke="#5a5a7c" stroke-width="0.85"/>
<circle cx="481.30" cy="247.90" r="1.75" fill="#f2dab0" fill-opacity="0.75" stroke="#a07a48" stroke-width="0.85"/>
<circle cx="482.50" cy="287.60" r="1.75" fill="#d8d6c8" fill-opacity="0.75" stroke="#8a887a" stroke-width="0.85"/>
<line x1="52.30" y1="149.50" x2="52.30" y2="296.70" stroke="#000" stroke-width="1.05" />
<line x1="51.80" y1="296.20" x2="251.70" y2="296.20" stroke="#000" stroke-width="1.05" />
<line x1="49.30" y1="289.80" x2="52.30" y2="289.80" stroke="#333" stroke-width="1" />
<text x="46.20" y="292.80" font-size="8.6" text-anchor="end" fill="#4d4d4d" stroke="#4d4d4d" stroke-width="0.28" font-weight="normal" >0</text>
<line x1="49.30" y1="256.07" x2="52.30" y2="256.07" stroke="#333" stroke-width="1" />
<text x="46.20" y="259.07" font-size="8.6" text-anchor="end" fill="#4d4d4d" stroke="#4d4d4d" stroke-width="0.28" font-weight="normal" >25</text>
<line x1="49.30" y1="222.35" x2="52.30" y2="222.35" stroke="#333" stroke-width="1" />
<text x="46.20" y="225.35" font-size="8.6" text-anchor="end" fill="#4d4d4d" stroke="#4d4d4d" stroke-width="0.28" font-weight="normal" >50</text>
<line x1="49.30" y1="188.62" x2="52.30" y2="188.62" stroke="#333" stroke-width="1" />
<text x="46.20" y="191.62" font-size="8.6" text-anchor="end" fill="#4d4d4d" stroke="#4d4d4d" stroke-width="0.28" font-weight="normal" >75</text>
<line x1="49.30" y1="154.90" x2="52.30" y2="154.90" stroke="#333" stroke-width="1" />
<text x="46.20" y="157.90" font-size="8.6" text-anchor="end" fill="#4d4d4d" stroke="#4d4d4d" stroke-width="0.28" font-weight="normal" >100</text>
<line x1="75.30" y1="296.20" x2="75.30" y2="299.20" stroke="#333" stroke-width="1" />
<line x1="113.65" y1="296.20" x2="113.65" y2="299.20" stroke="#333" stroke-width="1" />
<line x1="152.00" y1="296.20" x2="152.00" y2="299.20" stroke="#333" stroke-width="1" />
<line x1="190.35" y1="296.20" x2="190.35" y2="299.20" stroke="#333" stroke-width="1" />
<line x1="228.70" y1="296.20" x2="228.70" y2="299.20" stroke="#333" stroke-width="1" />
<line x1="312.30" y1="159.00" x2="312.30" y2="296.40" stroke="#000" stroke-width="1.05" />
<line x1="311.80" y1="295.90" x2="510.40" y2="295.90" stroke="#000" stroke-width="1.05" />
<line x1="309.30" y1="290.00" x2="312.30" y2="290.00" stroke="#333" stroke-width="1" />
<text x="306.00" y="293.00" font-size="8.6" text-anchor="end" fill="#4d4d4d" stroke="#4d4d4d" stroke-width="0.28" font-weight="normal" >0</text>
<line x1="309.30" y1="258.38" x2="312.30" y2="258.38" stroke="#333" stroke-width="1" />
<text x="306.00" y="261.38" font-size="8.6" text-anchor="end" fill="#4d4d4d" stroke="#4d4d4d" stroke-width="0.28" font-weight="normal" >25</text>
<line x1="309.30" y1="226.75" x2="312.30" y2="226.75" stroke="#333" stroke-width="1" />
<text x="306.00" y="229.75" font-size="8.6" text-anchor="end" fill="#4d4d4d" stroke="#4d4d4d" stroke-width="0.28" font-weight="normal" >50</text>
<line x1="309.30" y1="195.12" x2="312.30" y2="195.12" stroke="#333" stroke-width="1" />
<text x="306.00" y="198.12" font-size="8.6" text-anchor="end" fill="#4d4d4d" stroke="#4d4d4d" stroke-width="0.28" font-weight="normal" >75</text>
<line x1="309.30" y1="163.50" x2="312.30" y2="163.50" stroke="#333" stroke-width="1" />
<text x="306.00" y="166.50" font-size="8.6" text-anchor="end" fill="#4d4d4d" stroke="#4d4d4d" stroke-width="0.28" font-weight="normal" >100</text>
<line x1="340.60" y1="295.90" x2="340.60" y2="298.90" stroke="#333" stroke-width="1" />
<line x1="387.77" y1="295.90" x2="387.77" y2="298.90" stroke="#333" stroke-width="1" />
<line x1="434.94" y1="295.90" x2="434.94" y2="298.90" stroke="#333" stroke-width="1" />
<line x1="482.11" y1="295.90" x2="482.11" y2="298.90" stroke="#333" stroke-width="1" />
<text transform="translate(28.7,222.6) rotate(-90) scale(0.885,1)" font-size="9.6" text-anchor="middle" fill="#333" stroke="#333" stroke-width="0.28">%CD20+PAX5+ in PAX5+ tumor</text>
<text transform="translate(288.5,227.5) rotate(-90) scale(0.885,1)" font-size="9.6" text-anchor="middle" fill="#333" stroke="#333" stroke-width="0.28">%CD20+PAX5+ in PAX5+ tumor</text>
<text x="75.30" y="309.70" font-size="8.5" text-anchor="middle" fill="#3a3a3a" stroke="#3a3a3a" stroke-width="0.28" font-weight="normal" >FL</text>
<text x="75.30" y="319.40" font-size="8.5" text-anchor="middle" fill="#3a3a3a" stroke="#3a3a3a" stroke-width="0.28" font-weight="normal" >(n = 122)</text>
<text x="113.65" y="309.70" font-size="8.5" text-anchor="middle" fill="#3a3a3a" stroke="#3a3a3a" stroke-width="0.28" font-weight="normal" >trFL</text>
<text x="113.65" y="319.40" font-size="8.5" text-anchor="middle" fill="#3a3a3a" stroke="#3a3a3a" stroke-width="0.28" font-weight="normal" >(n = 38)</text>
<text x="152.00" y="309.70" font-size="8.5" text-anchor="middle" fill="#3a3a3a" stroke="#3a3a3a" stroke-width="0.28" font-weight="normal" >DLBCL</text>
<text x="152.00" y="319.40" font-size="8.5" text-anchor="middle" fill="#3a3a3a" stroke="#3a3a3a" stroke-width="0.28" font-weight="normal" >(n = 90)</text>
<text x="190.35" y="309.70" font-size="8.5" text-anchor="middle" fill="#3a3a3a" stroke="#3a3a3a" stroke-width="0.28" font-weight="normal" >MCL</text>
<text x="190.35" y="319.40" font-size="8.5" text-anchor="middle" fill="#3a3a3a" stroke="#3a3a3a" stroke-width="0.28" font-weight="normal" >(n = 24)</text>
<text x="228.70" y="309.70" font-size="8.5" text-anchor="middle" fill="#3a3a3a" stroke="#3a3a3a" stroke-width="0.28" font-weight="normal" >RS</text>
<text x="228.70" y="319.40" font-size="8.5" text-anchor="middle" fill="#3a3a3a" stroke="#3a3a3a" stroke-width="0.28" font-weight="normal" >(n = 15)</text>
<text x="340.60" y="309.70" font-size="8.5" text-anchor="middle" fill="#3a3a3a" stroke="#3a3a3a" stroke-width="0.28" font-weight="normal" >aNHL</text>
<text x="340.60" y="319.60" font-size="8.5" text-anchor="middle" fill="#3a3a3a" stroke="#3a3a3a" stroke-width="0.28" font-weight="normal" >CR/PR</text>
<text x="340.60" y="329.50" font-size="8.5" text-anchor="middle" fill="#3a3a3a" stroke="#3a3a3a" stroke-width="0.28" font-weight="normal" >(n = 69)</text>
<text x="387.77" y="309.70" font-size="8.5" text-anchor="middle" fill="#3a3a3a" stroke="#3a3a3a" stroke-width="0.28" font-weight="normal" >aNHL</text>
<text x="387.77" y="319.60" font-size="8.5" text-anchor="middle" fill="#3a3a3a" stroke="#3a3a3a" stroke-width="0.28" font-weight="normal" >SD/PD</text>
<text x="387.77" y="329.50" font-size="8.5" text-anchor="middle" fill="#3a3a3a" stroke="#3a3a3a" stroke-width="0.28" font-weight="normal" >(n = 92)</text>
<text x="434.94" y="309.70" font-size="8.5" text-anchor="middle" fill="#3a3a3a" stroke="#3a3a3a" stroke-width="0.28" font-weight="normal" >iNHL</text>
<text x="434.94" y="319.60" font-size="8.5" text-anchor="middle" fill="#3a3a3a" stroke="#3a3a3a" stroke-width="0.28" font-weight="normal" >CR/PR</text>
<text x="434.94" y="329.50" font-size="8.5" text-anchor="middle" fill="#3a3a3a" stroke="#3a3a3a" stroke-width="0.28" font-weight="normal" >(n = 89)</text>
<text x="482.11" y="309.70" font-size="8.5" text-anchor="middle" fill="#3a3a3a" stroke="#3a3a3a" stroke-width="0.28" font-weight="normal" >iNHL</text>
<text x="482.11" y="319.60" font-size="8.5" text-anchor="middle" fill="#3a3a3a" stroke="#3a3a3a" stroke-width="0.28" font-weight="normal" >SD/PD</text>
<text x="482.11" y="329.50" font-size="8.5" text-anchor="middle" fill="#3a3a3a" stroke="#3a3a3a" stroke-width="0.28" font-weight="normal" >(n = 33)</text>
<text x="61.90" y="333.80" font-size="8.8" text-anchor="start" fill="#333" stroke="#333" stroke-width="0.28" font-weight="normal" >Histology</text>
<circle cx="106.0" cy="331.0" r="1.5" fill="#ececec" stroke="#9c9c9c" stroke-width="0.85"/>
<text x="111.50" y="333.80" font-size="8.8" text-anchor="start" fill="#333" stroke="#333" stroke-width="0.28" font-weight="normal" >FL</text>
<circle cx="127.9" cy="331.0" r="1.5" fill="#f2e4cc" stroke="#c4a070" stroke-width="0.85"/>
<text x="132.70" y="333.80" font-size="8.8" text-anchor="start" fill="#333" stroke="#333" stroke-width="0.28" font-weight="normal" >trFL</text>
<circle cx="156.9" cy="331.0" r="1.5" fill="#6e5e7c" stroke="#5a4a68" stroke-width="0.85"/>
<text x="161.80" y="333.80" font-size="8.8" text-anchor="start" fill="#333" stroke="#333" stroke-width="0.28" font-weight="normal" >DLBCL</text>
<circle cx="196.0" cy="331.0" r="1.5" fill="#e6d0d0" stroke="#ad8888" stroke-width="0.85"/>
<text x="201.30" y="333.80" font-size="8.8" text-anchor="start" fill="#333" stroke="#333" stroke-width="0.28" font-weight="normal" >MCL</text>
<circle cx="227.7" cy="331.0" r="1.5" fill="#6a7292" stroke="#5a6282" stroke-width="0.85"/>
<text x="233.00" y="333.80" font-size="8.8" text-anchor="start" fill="#333" stroke="#333" stroke-width="0.28" font-weight="normal" >RS</text>
<text x="310.90" y="344.40" font-size="8.65" text-anchor="start" fill="#333" stroke="#333" stroke-width="0.28" font-weight="normal" >Best response</text>
<circle cx="373.0" cy="341.9" r="1.5" fill="#ececec" stroke="#949494" stroke-width="0.85"/>
<text x="377.40" y="344.40" font-size="8.65" text-anchor="start" fill="#3a3a3a" stroke="#3a3a3a" stroke-width="0.28" font-weight="normal" >CR</text>
<circle cx="397.9" cy="341.9" r="1.5" fill="#a2aa94" stroke="#8c9480" stroke-width="0.85"/>
<text x="402.30" y="344.40" font-size="8.65" text-anchor="start" fill="#3a3a3a" stroke="#3a3a3a" stroke-width="0.28" font-weight="normal" >PR</text>
<circle cx="421.6" cy="341.9" r="1.5" fill="#f2eed8" stroke="#c8c29c" stroke-width="0.85"/>
<text x="425.90" y="344.40" font-size="8.65" text-anchor="start" fill="#3a3a3a" stroke="#3a3a3a" stroke-width="0.28" font-weight="normal" >SD</text>
<circle cx="444.9" cy="341.9" r="1.5" fill="#a4a2b2" stroke="#8c8a9c" stroke-width="0.85"/>
<text x="450.20" y="344.40" font-size="8.65" text-anchor="start" fill="#3a3a3a" stroke="#3a3a3a" stroke-width="0.28" font-weight="normal" >PD</text>
<circle cx="469.6" cy="341.9" r="1.5" fill="#f0f0f0" stroke="#b4b4b4" stroke-width="0.85"/>
<text x="474.50" y="344.40" font-size="8.65" text-anchor="start" fill="#3a3a3a" stroke="#3a3a3a" stroke-width="0.28" font-weight="normal" >NE</text>
<circle cx="494.6" cy="341.9" r="1.5" fill="#f0f0f0" stroke="#b0b0b0" stroke-width="0.85"/>
<text x="498.80" y="344.40" font-size="8.65" text-anchor="start" fill="#3a3a3a" stroke="#3a3a3a" stroke-width="0.28" font-weight="normal" >ND</text>
</svg>
<div class="frame"></div>
</body></html>
